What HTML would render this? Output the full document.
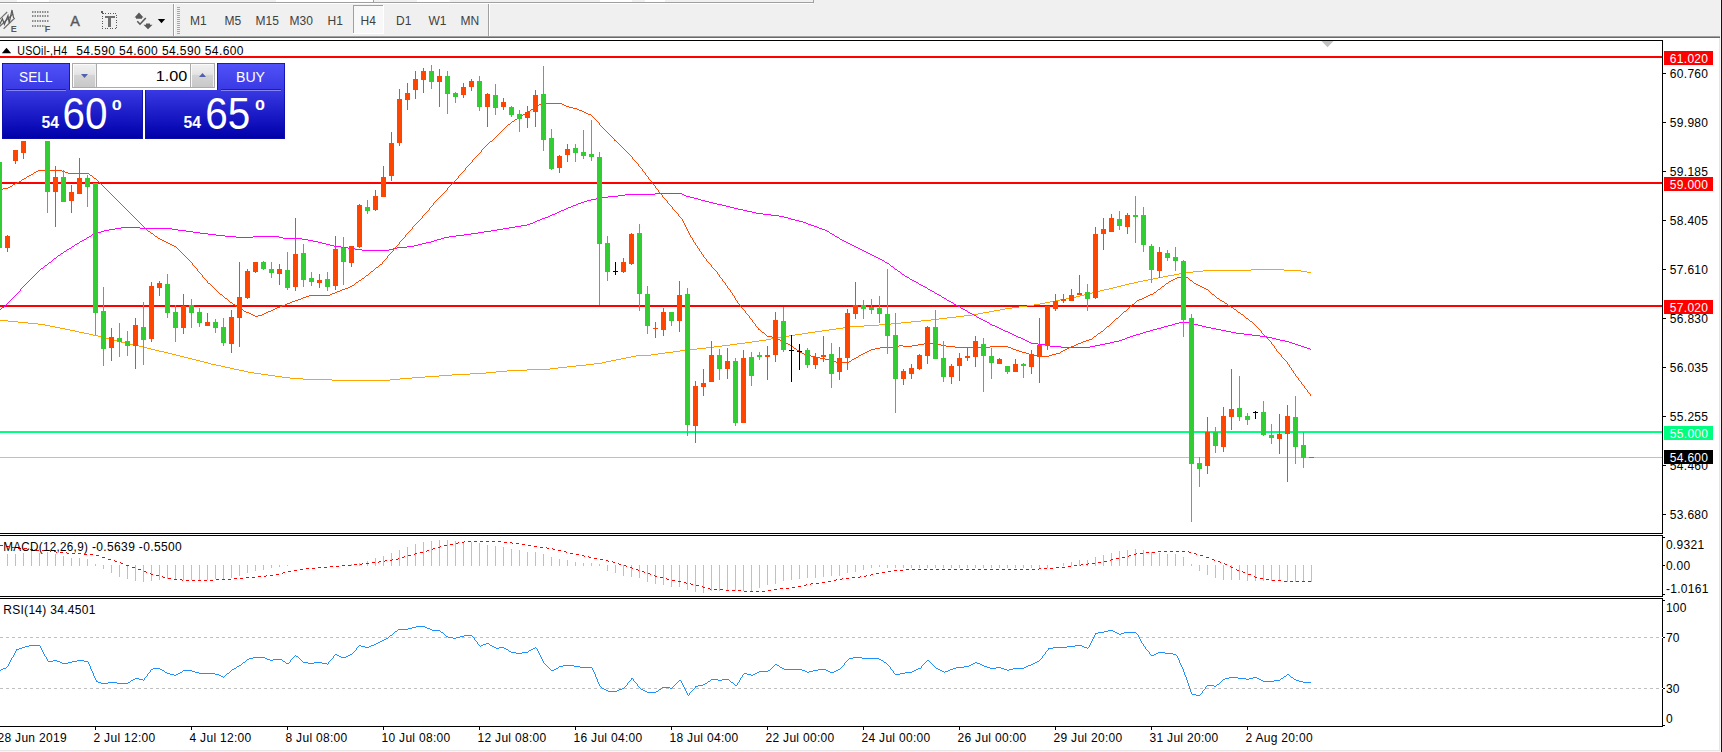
<!DOCTYPE html><html><head><meta charset="utf-8"><title>chart</title><style>
html,body{margin:0;padding:0;background:#fff;}body{width:1722px;height:752px;overflow:hidden;position:relative;font-family:"Liberation Sans",sans-serif;}
svg{position:absolute;left:0;top:0;}text{font-family:"Liberation Sans",sans-serif;}
.t{font-size:12px;fill:#000;}
</style></head><body>
<svg width="1722" height="752" viewBox="0 0 1722 752">
<rect x="0" y="0" width="1722" height="752" fill="#ffffff"/>
<g shape-rendering="crispEdges">
<rect x="0" y="0" width="1722" height="38" fill="#f0f0f0"/>
<rect x="17" y="0" width="32" height="2" fill="#ffffff"/>
<rect x="276" y="0" width="97" height="2" fill="#ffffff"/>
<rect x="417" y="0" width="33" height="2" fill="#ffffff"/>
<rect x="600" y="0" width="32" height="2" fill="#ffffff"/>
<rect x="645" y="0" width="20" height="2" fill="#ffffff"/>
<rect x="373" y="0" width="1" height="2" fill="#a0a0a0"/>
<rect x="0" y="2" width="814" height="1" fill="#a0a0a0"/>
<rect x="813" y="0" width="1" height="3" fill="#a0a0a0"/>
<rect x="0" y="3" width="813" height="1" fill="#ffffff"/>
<rect x="0" y="36" width="1722" height="1" fill="#a0a0a0"/>
<rect x="0" y="37" width="1722" height="1" fill="#696969"/>
<rect x="0" y="38" width="1722" height="2" fill="#ffffff"/>
<rect x="0" y="750" width="1720" height="1" fill="#e6e6e6"/>
<rect x="0" y="751" width="1720" height="1" fill="#f6f6f6"/>
<rect x="1719" y="38" width="1" height="713" fill="#e6e6e6"/>
<rect x="1720" y="0" width="1" height="752" fill="#f6f6f6"/>
<rect x="1721" y="0" width="1" height="752" fill="#10141c"/>
<rect x="0" y="40" width="1663" height="1" fill="#000"/>
<rect x="1662" y="40" width="1" height="687" fill="#000"/>
<rect x="0" y="533" width="1663" height="1" fill="#000"/>
<rect x="0" y="535" width="1663" height="1" fill="#000"/>
<rect x="0" y="596" width="1663" height="1" fill="#000"/>
<rect x="0" y="598" width="1663" height="1" fill="#000"/>
<rect x="0" y="726" width="1663" height="1" fill="#000"/>
<rect x="1662" y="534" width="1" height="1" fill="#fff"/>
<rect x="1662" y="597" width="1" height="1" fill="#fff"/>
<rect x="0" y="56" width="1662" height="2" fill="#ff0000"/>
<rect x="0" y="182" width="1662" height="2" fill="#ff0000"/>
<rect x="0" y="305" width="1662" height="2" fill="#ff0000"/>
<rect x="0" y="431" width="1662" height="2" fill="#00ff7f"/>
<rect x="0" y="457" width="1662" height="1" fill="#c0c0c0"/>
<line x1="0" y1="637.5" x2="1662" y2="637.5" stroke="#c0c0c0" stroke-width="1" stroke-dasharray="3,3"/>
<line x1="0" y1="688.5" x2="1662" y2="688.5" stroke="#c0c0c0" stroke-width="1" stroke-dasharray="3,3"/>
<rect x="1662" y="637" width="1" height="1" fill="#fff"/><rect x="1662" y="688" width="1" height="1" fill="#fff"/>
<rect x="7" y="554" width="1" height="12" fill="#c0c0c0"/>
<rect x="15" y="554" width="1" height="12" fill="#c0c0c0"/>
<rect x="23" y="553" width="1" height="13" fill="#c0c0c0"/>
<rect x="31" y="551" width="1" height="15" fill="#c0c0c0"/>
<rect x="39" y="553" width="1" height="13" fill="#c0c0c0"/>
<rect x="47" y="552" width="1" height="14" fill="#c0c0c0"/>
<rect x="55" y="554" width="1" height="12" fill="#c0c0c0"/>
<rect x="63" y="556" width="1" height="10" fill="#c0c0c0"/>
<rect x="71" y="558" width="1" height="8" fill="#c0c0c0"/>
<rect x="79" y="558" width="1" height="8" fill="#c0c0c0"/>
<rect x="87" y="559" width="1" height="7" fill="#c0c0c0"/>
<rect x="95" y="564" width="1" height="2" fill="#c0c0c0"/>
<rect x="103" y="565" width="1" height="4" fill="#c0c0c0"/>
<rect x="111" y="565" width="1" height="8" fill="#c0c0c0"/>
<rect x="119" y="565" width="1" height="12" fill="#c0c0c0"/>
<rect x="127" y="565" width="1" height="14" fill="#c0c0c0"/>
<rect x="135" y="565" width="1" height="16" fill="#c0c0c0"/>
<rect x="143" y="565" width="1" height="17" fill="#c0c0c0"/>
<rect x="151" y="565" width="1" height="16" fill="#c0c0c0"/>
<rect x="159" y="565" width="1" height="15" fill="#c0c0c0"/>
<rect x="167" y="565" width="1" height="14" fill="#c0c0c0"/>
<rect x="175" y="565" width="1" height="14" fill="#c0c0c0"/>
<rect x="183" y="565" width="1" height="15" fill="#c0c0c0"/>
<rect x="191" y="565" width="1" height="15" fill="#c0c0c0"/>
<rect x="199" y="565" width="1" height="15" fill="#c0c0c0"/>
<rect x="207" y="565" width="1" height="15" fill="#c0c0c0"/>
<rect x="215" y="565" width="1" height="14" fill="#c0c0c0"/>
<rect x="223" y="565" width="1" height="14" fill="#c0c0c0"/>
<rect x="231" y="565" width="1" height="13" fill="#c0c0c0"/>
<rect x="239" y="565" width="1" height="11" fill="#c0c0c0"/>
<rect x="247" y="565" width="1" height="8" fill="#c0c0c0"/>
<rect x="255" y="565" width="1" height="6" fill="#c0c0c0"/>
<rect x="263" y="565" width="1" height="5" fill="#c0c0c0"/>
<rect x="271" y="565" width="1" height="3" fill="#c0c0c0"/>
<rect x="279" y="565" width="1" height="2" fill="#c0c0c0"/>
<rect x="287" y="565" width="1" height="1" fill="#c0c0c0"/>
<rect x="351" y="564" width="1" height="2" fill="#c0c0c0"/>
<rect x="359" y="563" width="1" height="3" fill="#c0c0c0"/>
<rect x="367" y="561" width="1" height="5" fill="#c0c0c0"/>
<rect x="375" y="558" width="1" height="8" fill="#c0c0c0"/>
<rect x="383" y="556" width="1" height="10" fill="#c0c0c0"/>
<rect x="391" y="553" width="1" height="13" fill="#c0c0c0"/>
<rect x="399" y="550" width="1" height="16" fill="#c0c0c0"/>
<rect x="407" y="547" width="1" height="19" fill="#c0c0c0"/>
<rect x="415" y="544" width="1" height="22" fill="#c0c0c0"/>
<rect x="423" y="542" width="1" height="24" fill="#c0c0c0"/>
<rect x="431" y="541" width="1" height="25" fill="#c0c0c0"/>
<rect x="439" y="540" width="1" height="26" fill="#c0c0c0"/>
<rect x="447" y="540" width="1" height="26" fill="#c0c0c0"/>
<rect x="455" y="541" width="1" height="25" fill="#c0c0c0"/>
<rect x="463" y="542" width="1" height="24" fill="#c0c0c0"/>
<rect x="471" y="542" width="1" height="24" fill="#c0c0c0"/>
<rect x="479" y="543" width="1" height="23" fill="#c0c0c0"/>
<rect x="487" y="545" width="1" height="21" fill="#c0c0c0"/>
<rect x="495" y="546" width="1" height="20" fill="#c0c0c0"/>
<rect x="503" y="547" width="1" height="19" fill="#c0c0c0"/>
<rect x="511" y="549" width="1" height="17" fill="#c0c0c0"/>
<rect x="519" y="550" width="1" height="16" fill="#c0c0c0"/>
<rect x="527" y="552" width="1" height="14" fill="#c0c0c0"/>
<rect x="535" y="552" width="1" height="14" fill="#c0c0c0"/>
<rect x="543" y="554" width="1" height="12" fill="#c0c0c0"/>
<rect x="551" y="557" width="1" height="9" fill="#c0c0c0"/>
<rect x="559" y="559" width="1" height="7" fill="#c0c0c0"/>
<rect x="567" y="560" width="1" height="6" fill="#c0c0c0"/>
<rect x="575" y="562" width="1" height="4" fill="#c0c0c0"/>
<rect x="583" y="563" width="1" height="3" fill="#c0c0c0"/>
<rect x="591" y="563" width="1" height="3" fill="#c0c0c0"/>
<rect x="599" y="564" width="1" height="2" fill="#c0c0c0"/>
<rect x="607" y="565" width="1" height="6" fill="#c0c0c0"/>
<rect x="615" y="565" width="1" height="8" fill="#c0c0c0"/>
<rect x="623" y="565" width="1" height="11" fill="#c0c0c0"/>
<rect x="631" y="565" width="1" height="12" fill="#c0c0c0"/>
<rect x="639" y="565" width="1" height="13" fill="#c0c0c0"/>
<rect x="647" y="565" width="1" height="17" fill="#c0c0c0"/>
<rect x="655" y="565" width="1" height="19" fill="#c0c0c0"/>
<rect x="663" y="565" width="1" height="20" fill="#c0c0c0"/>
<rect x="671" y="565" width="1" height="22" fill="#c0c0c0"/>
<rect x="679" y="565" width="1" height="22" fill="#c0c0c0"/>
<rect x="687" y="565" width="1" height="25" fill="#c0c0c0"/>
<rect x="695" y="565" width="1" height="27" fill="#c0c0c0"/>
<rect x="703" y="565" width="1" height="28" fill="#c0c0c0"/>
<rect x="711" y="565" width="1" height="26" fill="#c0c0c0"/>
<rect x="719" y="565" width="1" height="26" fill="#c0c0c0"/>
<rect x="727" y="565" width="1" height="26" fill="#c0c0c0"/>
<rect x="735" y="565" width="1" height="26" fill="#c0c0c0"/>
<rect x="743" y="565" width="1" height="26" fill="#c0c0c0"/>
<rect x="751" y="565" width="1" height="26" fill="#c0c0c0"/>
<rect x="759" y="565" width="1" height="23" fill="#c0c0c0"/>
<rect x="767" y="565" width="1" height="20" fill="#c0c0c0"/>
<rect x="775" y="565" width="1" height="19" fill="#c0c0c0"/>
<rect x="783" y="565" width="1" height="16" fill="#c0c0c0"/>
<rect x="791" y="565" width="1" height="15" fill="#c0c0c0"/>
<rect x="799" y="565" width="1" height="14" fill="#c0c0c0"/>
<rect x="807" y="565" width="1" height="13" fill="#c0c0c0"/>
<rect x="815" y="565" width="1" height="13" fill="#c0c0c0"/>
<rect x="823" y="565" width="1" height="12" fill="#c0c0c0"/>
<rect x="831" y="565" width="1" height="11" fill="#c0c0c0"/>
<rect x="839" y="565" width="1" height="11" fill="#c0c0c0"/>
<rect x="847" y="565" width="1" height="8" fill="#c0c0c0"/>
<rect x="855" y="565" width="1" height="7" fill="#c0c0c0"/>
<rect x="863" y="565" width="1" height="5" fill="#c0c0c0"/>
<rect x="871" y="565" width="1" height="3" fill="#c0c0c0"/>
<rect x="879" y="565" width="1" height="2" fill="#c0c0c0"/>
<rect x="1063" y="563" width="1" height="3" fill="#c0c0c0"/>
<rect x="1071" y="562" width="1" height="4" fill="#c0c0c0"/>
<rect x="1079" y="560" width="1" height="6" fill="#c0c0c0"/>
<rect x="1087" y="560" width="1" height="6" fill="#c0c0c0"/>
<rect x="1095" y="557" width="1" height="9" fill="#c0c0c0"/>
<rect x="1103" y="555" width="1" height="11" fill="#c0c0c0"/>
<rect x="1111" y="553" width="1" height="13" fill="#c0c0c0"/>
<rect x="1119" y="551" width="1" height="15" fill="#c0c0c0"/>
<rect x="1127" y="550" width="1" height="16" fill="#c0c0c0"/>
<rect x="1135" y="549" width="1" height="17" fill="#c0c0c0"/>
<rect x="1143" y="550" width="1" height="16" fill="#c0c0c0"/>
<rect x="1151" y="552" width="1" height="14" fill="#c0c0c0"/>
<rect x="1159" y="553" width="1" height="13" fill="#c0c0c0"/>
<rect x="1167" y="554" width="1" height="12" fill="#c0c0c0"/>
<rect x="1175" y="554" width="1" height="12" fill="#c0c0c0"/>
<rect x="1183" y="557" width="1" height="9" fill="#c0c0c0"/>
<rect x="1191" y="564" width="1" height="2" fill="#c0c0c0"/>
<rect x="1199" y="565" width="1" height="6" fill="#c0c0c0"/>
<rect x="1207" y="565" width="1" height="10" fill="#c0c0c0"/>
<rect x="1215" y="565" width="1" height="13" fill="#c0c0c0"/>
<rect x="1223" y="565" width="1" height="15" fill="#c0c0c0"/>
<rect x="1231" y="565" width="1" height="15" fill="#c0c0c0"/>
<rect x="1239" y="565" width="1" height="15" fill="#c0c0c0"/>
<rect x="1247" y="565" width="1" height="16" fill="#c0c0c0"/>
<rect x="1255" y="565" width="1" height="16" fill="#c0c0c0"/>
<rect x="1263" y="565" width="1" height="16" fill="#c0c0c0"/>
<rect x="1271" y="565" width="1" height="16" fill="#c0c0c0"/>
<rect x="1279" y="565" width="1" height="16" fill="#c0c0c0"/>
<rect x="1287" y="565" width="1" height="17" fill="#c0c0c0"/>
<rect x="1295" y="565" width="1" height="17" fill="#c0c0c0"/>
<rect x="1303" y="565" width="1" height="17" fill="#c0c0c0"/>
<rect x="1311" y="565" width="1" height="17" fill="#c0c0c0"/>
<rect x="887" y="565" width="1" height="3" fill="#c0c0c0"/>
<rect x="895" y="565" width="1" height="3" fill="#c0c0c0"/>
<rect x="903" y="565" width="1" height="3" fill="#c0c0c0"/>
<rect x="911" y="565" width="1" height="3" fill="#c0c0c0"/>
<rect x="919" y="565" width="1" height="3" fill="#c0c0c0"/>
<rect x="927" y="565" width="1" height="3" fill="#c0c0c0"/>
<rect x="935" y="565" width="1" height="3" fill="#c0c0c0"/>
<rect x="943" y="565" width="1" height="3" fill="#c0c0c0"/>
<rect x="951" y="565" width="1" height="3" fill="#c0c0c0"/>
<rect x="959" y="565" width="1" height="3" fill="#c0c0c0"/>
<rect x="967" y="565" width="1" height="3" fill="#c0c0c0"/>
<rect x="975" y="565" width="1" height="3" fill="#c0c0c0"/>
<rect x="983" y="565" width="1" height="3" fill="#c0c0c0"/>
<rect x="991" y="565" width="1" height="3" fill="#c0c0c0"/>
<rect x="999" y="565" width="1" height="3" fill="#c0c0c0"/>
<rect x="1007" y="565" width="1" height="3" fill="#c0c0c0"/>
<rect x="1015" y="565" width="1" height="3" fill="#c0c0c0"/>
<rect x="1023" y="565" width="1" height="3" fill="#c0c0c0"/>
<rect x="1031" y="565" width="1" height="3" fill="#c0c0c0"/>
<rect x="1039" y="565" width="1" height="3" fill="#c0c0c0"/>
<rect x="1047" y="565" width="1" height="3" fill="#c0c0c0"/>
</g>
<g shape-rendering="crispEdges">
<g fill="#ffa500" shape-rendering="crispEdges"><rect x="0" y="320" width="8" height="1"/><rect x="8" y="321" width="10" height="1"/><rect x="18" y="322" width="10" height="1"/><rect x="28" y="323" width="10" height="1"/><rect x="38" y="324" width="7" height="1"/><rect x="45" y="325" width="5" height="1"/><rect x="50" y="326" width="5" height="1"/><rect x="55" y="327" width="5" height="1"/><rect x="60" y="328" width="5" height="1"/><rect x="65" y="329" width="5" height="1"/><rect x="70" y="330" width="5" height="1"/><rect x="75" y="331" width="4" height="1"/><rect x="79" y="332" width="5" height="1"/><rect x="84" y="333" width="5" height="1"/><rect x="89" y="334" width="4" height="1"/><rect x="93" y="335" width="5" height="1"/><rect x="98" y="336" width="4" height="1"/><rect x="102" y="337" width="4" height="1"/><rect x="106" y="338" width="4" height="1"/><rect x="110" y="339" width="4" height="1"/><rect x="114" y="340" width="3" height="1"/><rect x="117" y="341" width="4" height="1"/><rect x="121" y="342" width="5" height="1"/><rect x="126" y="343" width="4" height="1"/><rect x="130" y="344" width="5" height="1"/><rect x="135" y="345" width="4" height="1"/><rect x="139" y="346" width="4" height="1"/><rect x="143" y="347" width="4" height="1"/><rect x="147" y="348" width="4" height="1"/><rect x="151" y="349" width="4" height="1"/><rect x="155" y="350" width="4" height="1"/><rect x="159" y="351" width="5" height="1"/><rect x="164" y="352" width="4" height="1"/><rect x="168" y="353" width="4" height="1"/><rect x="172" y="354" width="4" height="1"/><rect x="176" y="355" width="4" height="1"/><rect x="180" y="356" width="4" height="1"/><rect x="184" y="357" width="4" height="1"/><rect x="188" y="358" width="4" height="1"/><rect x="192" y="359" width="4" height="1"/><rect x="196" y="360" width="4" height="1"/><rect x="200" y="361" width="4" height="1"/><rect x="204" y="362" width="4" height="1"/><rect x="208" y="363" width="3" height="1"/><rect x="211" y="364" width="5" height="1"/><rect x="216" y="365" width="5" height="1"/><rect x="221" y="366" width="4" height="1"/><rect x="225" y="367" width="5" height="1"/><rect x="230" y="368" width="4" height="1"/><rect x="234" y="369" width="5" height="1"/><rect x="239" y="370" width="5" height="1"/><rect x="244" y="371" width="4" height="1"/><rect x="248" y="372" width="6" height="1"/><rect x="254" y="373" width="7" height="1"/><rect x="261" y="374" width="7" height="1"/><rect x="268" y="375" width="7" height="1"/><rect x="275" y="376" width="7" height="1"/><rect x="282" y="377" width="8" height="1"/><rect x="290" y="378" width="13" height="1"/><rect x="303" y="379" width="29" height="1"/><rect x="332" y="380" width="58" height="1"/><rect x="390" y="379" width="10" height="1"/><rect x="400" y="378" width="12" height="1"/><rect x="412" y="377" width="13" height="1"/><rect x="425" y="376" width="14" height="1"/><rect x="439" y="375" width="13" height="1"/><rect x="452" y="374" width="18" height="1"/><rect x="470" y="373" width="16" height="1"/><rect x="486" y="372" width="10" height="1"/><rect x="496" y="371" width="11" height="1"/><rect x="507" y="370" width="20" height="1"/><rect x="527" y="369" width="23" height="1"/><rect x="550" y="368" width="8" height="1"/><rect x="558" y="367" width="9" height="1"/><rect x="567" y="366" width="9" height="1"/><rect x="576" y="365" width="10" height="1"/><rect x="586" y="364" width="8" height="1"/><rect x="594" y="363" width="8" height="1"/><rect x="602" y="362" width="4" height="1"/><rect x="606" y="361" width="5" height="1"/><rect x="611" y="360" width="5" height="1"/><rect x="616" y="359" width="5" height="1"/><rect x="621" y="358" width="5" height="1"/><rect x="626" y="357" width="5" height="1"/><rect x="631" y="356" width="5" height="1"/><rect x="636" y="355" width="15" height="1"/><rect x="651" y="354" width="7" height="1"/><rect x="658" y="353" width="7" height="1"/><rect x="665" y="352" width="8" height="1"/><rect x="673" y="351" width="7" height="1"/><rect x="680" y="350" width="7" height="1"/><rect x="687" y="349" width="10" height="1"/><rect x="697" y="348" width="9" height="1"/><rect x="706" y="347" width="8" height="1"/><rect x="714" y="346" width="8" height="1"/><rect x="722" y="345" width="8" height="1"/><rect x="730" y="344" width="7" height="1"/><rect x="737" y="343" width="8" height="1"/><rect x="745" y="342" width="7" height="1"/><rect x="752" y="341" width="7" height="1"/><rect x="759" y="340" width="7" height="1"/><rect x="766" y="339" width="5" height="1"/><rect x="771" y="338" width="5" height="1"/><rect x="776" y="337" width="6" height="1"/><rect x="782" y="336" width="7" height="1"/><rect x="789" y="335" width="6" height="1"/><rect x="795" y="334" width="7" height="1"/><rect x="802" y="333" width="6" height="1"/><rect x="808" y="332" width="7" height="1"/><rect x="815" y="331" width="7" height="1"/><rect x="822" y="330" width="7" height="1"/><rect x="829" y="329" width="7" height="1"/><rect x="836" y="328" width="7" height="1"/><rect x="843" y="327" width="7" height="1"/><rect x="850" y="326" width="14" height="1"/><rect x="864" y="325" width="15" height="1"/><rect x="879" y="324" width="12" height="1"/><rect x="891" y="323" width="10" height="1"/><rect x="901" y="322" width="10" height="1"/><rect x="911" y="321" width="10" height="1"/><rect x="921" y="320" width="10" height="1"/><rect x="931" y="319" width="8" height="1"/><rect x="939" y="318" width="8" height="1"/><rect x="947" y="317" width="9" height="1"/><rect x="956" y="316" width="8" height="1"/><rect x="964" y="315" width="8" height="1"/><rect x="972" y="314" width="6" height="1"/><rect x="978" y="313" width="5" height="1"/><rect x="983" y="312" width="6" height="1"/><rect x="989" y="311" width="5" height="1"/><rect x="994" y="310" width="6" height="1"/><rect x="1000" y="309" width="5" height="1"/><rect x="1005" y="308" width="7" height="1"/><rect x="1012" y="307" width="7" height="1"/><rect x="1019" y="306" width="8" height="1"/><rect x="1027" y="305" width="7" height="1"/><rect x="1034" y="304" width="6" height="1"/><rect x="1040" y="303" width="5" height="1"/><rect x="1045" y="302" width="5" height="1"/><rect x="1050" y="301" width="5" height="1"/><rect x="1055" y="300" width="5" height="1"/><rect x="1060" y="299" width="6" height="1"/><rect x="1066" y="298" width="6" height="1"/><rect x="1072" y="297" width="4" height="1"/><rect x="1076" y="296" width="4" height="1"/><rect x="1080" y="295" width="4" height="1"/><rect x="1084" y="294" width="4" height="1"/><rect x="1088" y="293" width="4" height="1"/><rect x="1092" y="292" width="4" height="1"/><rect x="1096" y="291" width="4" height="1"/><rect x="1100" y="290" width="4" height="1"/><rect x="1104" y="289" width="5" height="1"/><rect x="1109" y="288" width="4" height="1"/><rect x="1113" y="287" width="4" height="1"/><rect x="1117" y="286" width="4" height="1"/><rect x="1121" y="285" width="4" height="1"/><rect x="1125" y="284" width="4" height="1"/><rect x="1129" y="283" width="5" height="1"/><rect x="1134" y="282" width="4" height="1"/><rect x="1138" y="281" width="5" height="1"/><rect x="1143" y="280" width="5" height="1"/><rect x="1148" y="279" width="5" height="1"/><rect x="1153" y="278" width="5" height="1"/><rect x="1158" y="277" width="5" height="1"/><rect x="1163" y="276" width="5" height="1"/><rect x="1168" y="275" width="6" height="1"/><rect x="1174" y="274" width="5" height="1"/><rect x="1179" y="273" width="6" height="1"/><rect x="1185" y="272" width="8" height="1"/><rect x="1193" y="271" width="10" height="1"/><rect x="1203" y="270" width="48" height="1"/><rect x="1251" y="269" width="33" height="1"/><rect x="1284" y="270" width="17" height="1"/><rect x="1301" y="271" width="6" height="1"/><rect x="1307" y="272" width="4" height="1"/></g>
<g fill="#ff00ff" shape-rendering="crispEdges"><rect x="0" y="309" width="1" height="1"/><rect x="1" y="308" width="1" height="1"/><rect x="2" y="307" width="2" height="1"/><rect x="4" y="306" width="1" height="1"/><rect x="5" y="305" width="1" height="1"/><rect x="6" y="304" width="1" height="1"/><rect x="7" y="303" width="1" height="1"/><rect x="8" y="302" width="1" height="1"/><rect x="9" y="301" width="1" height="1"/><rect x="10" y="300" width="1" height="1"/><rect x="11" y="299" width="1" height="1"/><rect x="12" y="298" width="1" height="1"/><rect x="13" y="297" width="1" height="1"/><rect x="14" y="296" width="1" height="1"/><rect x="15" y="295" width="1" height="1"/><rect x="16" y="294" width="1" height="1"/><rect x="17" y="293" width="1" height="1"/><rect x="18" y="292" width="1" height="1"/><rect x="19" y="291" width="1" height="1"/><rect x="20" y="289" width="1" height="2"/><rect x="21" y="288" width="1" height="1"/><rect x="22" y="287" width="1" height="1"/><rect x="23" y="286" width="1" height="1"/><rect x="24" y="285" width="1" height="1"/><rect x="25" y="284" width="1" height="1"/><rect x="26" y="283" width="1" height="1"/><rect x="27" y="282" width="1" height="1"/><rect x="28" y="281" width="1" height="1"/><rect x="29" y="280" width="1" height="1"/><rect x="30" y="279" width="1" height="1"/><rect x="31" y="278" width="1" height="1"/><rect x="32" y="277" width="1" height="1"/><rect x="33" y="276" width="1" height="1"/><rect x="34" y="275" width="1" height="1"/><rect x="35" y="274" width="1" height="1"/><rect x="36" y="273" width="1" height="1"/><rect x="37" y="272" width="1" height="1"/><rect x="38" y="271" width="1" height="1"/><rect x="39" y="270" width="1" height="1"/><rect x="40" y="269" width="1" height="1"/><rect x="41" y="268" width="2" height="1"/><rect x="43" y="267" width="1" height="1"/><rect x="44" y="266" width="1" height="1"/><rect x="45" y="265" width="2" height="1"/><rect x="47" y="264" width="1" height="1"/><rect x="48" y="263" width="1" height="1"/><rect x="49" y="262" width="2" height="1"/><rect x="51" y="261" width="1" height="1"/><rect x="52" y="260" width="1" height="1"/><rect x="53" y="259" width="1" height="1"/><rect x="54" y="258" width="2" height="1"/><rect x="56" y="257" width="1" height="1"/><rect x="57" y="256" width="1" height="1"/><rect x="58" y="255" width="2" height="1"/><rect x="60" y="254" width="1" height="1"/><rect x="61" y="253" width="2" height="1"/><rect x="63" y="252" width="1" height="1"/><rect x="64" y="251" width="2" height="1"/><rect x="66" y="250" width="1" height="1"/><rect x="67" y="249" width="2" height="1"/><rect x="69" y="248" width="2" height="1"/><rect x="71" y="247" width="1" height="1"/><rect x="72" y="246" width="2" height="1"/><rect x="74" y="245" width="1" height="1"/><rect x="75" y="244" width="2" height="1"/><rect x="77" y="243" width="2" height="1"/><rect x="79" y="242" width="1" height="1"/><rect x="80" y="241" width="2" height="1"/><rect x="82" y="240" width="2" height="1"/><rect x="84" y="239" width="2" height="1"/><rect x="86" y="238" width="1" height="1"/><rect x="87" y="237" width="2" height="1"/><rect x="89" y="236" width="2" height="1"/><rect x="91" y="235" width="1" height="1"/><rect x="92" y="234" width="2" height="1"/><rect x="94" y="233" width="3" height="1"/><rect x="97" y="232" width="4" height="1"/><rect x="101" y="231" width="3" height="1"/><rect x="104" y="230" width="5" height="1"/><rect x="109" y="229" width="6" height="1"/><rect x="115" y="228" width="6" height="1"/><rect x="121" y="227" width="19" height="1"/><rect x="140" y="228" width="32" height="1"/><rect x="172" y="229" width="6" height="1"/><rect x="178" y="230" width="8" height="1"/><rect x="186" y="231" width="7" height="1"/><rect x="193" y="232" width="7" height="1"/><rect x="200" y="233" width="8" height="1"/><rect x="208" y="234" width="8" height="1"/><rect x="216" y="235" width="9" height="1"/><rect x="225" y="236" width="11" height="1"/><rect x="236" y="237" width="17" height="1"/><rect x="253" y="236" width="26" height="1"/><rect x="279" y="237" width="4" height="1"/><rect x="283" y="238" width="19" height="1"/><rect x="302" y="239" width="6" height="1"/><rect x="308" y="240" width="5" height="1"/><rect x="313" y="241" width="5" height="1"/><rect x="318" y="242" width="4" height="1"/><rect x="322" y="243" width="4" height="1"/><rect x="326" y="244" width="4" height="1"/><rect x="330" y="245" width="4" height="1"/><rect x="334" y="246" width="7" height="1"/><rect x="341" y="247" width="7" height="1"/><rect x="348" y="248" width="7" height="1"/><rect x="355" y="249" width="7" height="1"/><rect x="362" y="250" width="27" height="1"/><rect x="389" y="249" width="4" height="1"/><rect x="393" y="248" width="4" height="1"/><rect x="397" y="247" width="10" height="1"/><rect x="407" y="246" width="7" height="1"/><rect x="414" y="245" width="4" height="1"/><rect x="418" y="244" width="4" height="1"/><rect x="422" y="243" width="4" height="1"/><rect x="426" y="242" width="5" height="1"/><rect x="431" y="241" width="3" height="1"/><rect x="434" y="240" width="3" height="1"/><rect x="437" y="239" width="4" height="1"/><rect x="441" y="238" width="3" height="1"/><rect x="444" y="237" width="5" height="1"/><rect x="449" y="236" width="7" height="1"/><rect x="456" y="235" width="8" height="1"/><rect x="464" y="234" width="7" height="1"/><rect x="471" y="233" width="7" height="1"/><rect x="478" y="232" width="6" height="1"/><rect x="484" y="231" width="7" height="1"/><rect x="491" y="230" width="6" height="1"/><rect x="497" y="229" width="6" height="1"/><rect x="503" y="228" width="6" height="1"/><rect x="509" y="227" width="6" height="1"/><rect x="515" y="226" width="6" height="1"/><rect x="521" y="225" width="6" height="1"/><rect x="527" y="224" width="3" height="1"/><rect x="530" y="223" width="3" height="1"/><rect x="533" y="222" width="2" height="1"/><rect x="535" y="221" width="2" height="1"/><rect x="537" y="220" width="3" height="1"/><rect x="540" y="219" width="2" height="1"/><rect x="542" y="218" width="3" height="1"/><rect x="545" y="217" width="3" height="1"/><rect x="548" y="216" width="2" height="1"/><rect x="550" y="215" width="2" height="1"/><rect x="552" y="214" width="3" height="1"/><rect x="555" y="213" width="2" height="1"/><rect x="557" y="212" width="2" height="1"/><rect x="559" y="211" width="2" height="1"/><rect x="561" y="210" width="3" height="1"/><rect x="564" y="209" width="2" height="1"/><rect x="566" y="208" width="2" height="1"/><rect x="568" y="207" width="3" height="1"/><rect x="571" y="206" width="2" height="1"/><rect x="573" y="205" width="3" height="1"/><rect x="576" y="204" width="2" height="1"/><rect x="578" y="203" width="3" height="1"/><rect x="581" y="202" width="3" height="1"/><rect x="584" y="201" width="3" height="1"/><rect x="587" y="200" width="4" height="1"/><rect x="591" y="199" width="5" height="1"/><rect x="596" y="198" width="5" height="1"/><rect x="601" y="197" width="7" height="1"/><rect x="608" y="196" width="10" height="1"/><rect x="618" y="195" width="7" height="1"/><rect x="625" y="194" width="30" height="1"/><rect x="655" y="193" width="27" height="1"/><rect x="682" y="194" width="2" height="1"/><rect x="684" y="195" width="2" height="1"/><rect x="686" y="196" width="4" height="1"/><rect x="690" y="197" width="4" height="1"/><rect x="694" y="198" width="4" height="1"/><rect x="698" y="199" width="3" height="1"/><rect x="701" y="200" width="4" height="1"/><rect x="705" y="201" width="4" height="1"/><rect x="709" y="202" width="4" height="1"/><rect x="713" y="203" width="4" height="1"/><rect x="717" y="204" width="5" height="1"/><rect x="722" y="205" width="4" height="1"/><rect x="726" y="206" width="4" height="1"/><rect x="730" y="207" width="4" height="1"/><rect x="734" y="208" width="4" height="1"/><rect x="738" y="209" width="5" height="1"/><rect x="743" y="210" width="4" height="1"/><rect x="747" y="211" width="5" height="1"/><rect x="752" y="212" width="4" height="1"/><rect x="756" y="213" width="7" height="1"/><rect x="763" y="214" width="8" height="1"/><rect x="771" y="215" width="8" height="1"/><rect x="779" y="216" width="5" height="1"/><rect x="784" y="217" width="4" height="1"/><rect x="788" y="218" width="3" height="1"/><rect x="791" y="219" width="4" height="1"/><rect x="795" y="220" width="4" height="1"/><rect x="799" y="221" width="4" height="1"/><rect x="803" y="222" width="3" height="1"/><rect x="806" y="223" width="2" height="1"/><rect x="808" y="224" width="3" height="1"/><rect x="811" y="225" width="3" height="1"/><rect x="814" y="226" width="3" height="1"/><rect x="817" y="227" width="2" height="1"/><rect x="819" y="228" width="3" height="1"/><rect x="822" y="229" width="3" height="1"/><rect x="825" y="230" width="2" height="1"/><rect x="827" y="231" width="2" height="1"/><rect x="829" y="232" width="1" height="1"/><rect x="830" y="233" width="2" height="1"/><rect x="832" y="234" width="2" height="1"/><rect x="834" y="235" width="1" height="1"/><rect x="835" y="236" width="2" height="1"/><rect x="837" y="237" width="2" height="1"/><rect x="839" y="238" width="1" height="1"/><rect x="840" y="239" width="2" height="1"/><rect x="842" y="240" width="2" height="1"/><rect x="844" y="241" width="2" height="1"/><rect x="846" y="242" width="2" height="1"/><rect x="848" y="243" width="2" height="1"/><rect x="850" y="244" width="2" height="1"/><rect x="852" y="245" width="2" height="1"/><rect x="854" y="246" width="2" height="1"/><rect x="856" y="247" width="2" height="1"/><rect x="858" y="248" width="2" height="1"/><rect x="860" y="249" width="2" height="1"/><rect x="862" y="250" width="2" height="1"/><rect x="864" y="251" width="2" height="1"/><rect x="866" y="252" width="2" height="1"/><rect x="868" y="253" width="2" height="1"/><rect x="870" y="254" width="2" height="1"/><rect x="872" y="255" width="2" height="1"/><rect x="874" y="256" width="2" height="1"/><rect x="876" y="257" width="2" height="1"/><rect x="878" y="258" width="2" height="1"/><rect x="880" y="259" width="2" height="1"/><rect x="882" y="260" width="2" height="1"/><rect x="884" y="261" width="1" height="1"/><rect x="885" y="262" width="2" height="1"/><rect x="887" y="263" width="2" height="1"/><rect x="889" y="264" width="1" height="1"/><rect x="890" y="265" width="1" height="1"/><rect x="891" y="266" width="2" height="1"/><rect x="893" y="267" width="1" height="1"/><rect x="894" y="268" width="1" height="1"/><rect x="895" y="269" width="2" height="1"/><rect x="897" y="270" width="1" height="1"/><rect x="898" y="271" width="2" height="1"/><rect x="900" y="272" width="1" height="1"/><rect x="901" y="273" width="1" height="1"/><rect x="902" y="274" width="2" height="1"/><rect x="904" y="275" width="1" height="1"/><rect x="905" y="276" width="2" height="1"/><rect x="907" y="277" width="2" height="1"/><rect x="909" y="278" width="1" height="1"/><rect x="910" y="279" width="2" height="1"/><rect x="912" y="280" width="2" height="1"/><rect x="914" y="281" width="2" height="1"/><rect x="916" y="282" width="2" height="1"/><rect x="918" y="283" width="1" height="1"/><rect x="919" y="284" width="2" height="1"/><rect x="921" y="285" width="2" height="1"/><rect x="923" y="286" width="2" height="1"/><rect x="925" y="287" width="2" height="1"/><rect x="927" y="288" width="1" height="1"/><rect x="928" y="289" width="2" height="1"/><rect x="930" y="290" width="2" height="1"/><rect x="932" y="291" width="2" height="1"/><rect x="934" y="292" width="1" height="1"/><rect x="935" y="293" width="2" height="1"/><rect x="937" y="294" width="2" height="1"/><rect x="939" y="295" width="2" height="1"/><rect x="941" y="296" width="1" height="1"/><rect x="942" y="297" width="2" height="1"/><rect x="944" y="298" width="2" height="1"/><rect x="946" y="299" width="1" height="1"/><rect x="947" y="300" width="2" height="1"/><rect x="949" y="301" width="2" height="1"/><rect x="951" y="302" width="2" height="1"/><rect x="953" y="303" width="1" height="1"/><rect x="954" y="304" width="2" height="1"/><rect x="956" y="305" width="2" height="1"/><rect x="958" y="306" width="2" height="1"/><rect x="960" y="307" width="1" height="1"/><rect x="961" y="308" width="2" height="1"/><rect x="963" y="309" width="2" height="1"/><rect x="965" y="310" width="2" height="1"/><rect x="967" y="311" width="1" height="1"/><rect x="968" y="312" width="2" height="1"/><rect x="970" y="313" width="2" height="1"/><rect x="972" y="314" width="2" height="1"/><rect x="974" y="315" width="2" height="1"/><rect x="976" y="316" width="1" height="1"/><rect x="977" y="317" width="2" height="1"/><rect x="979" y="318" width="2" height="1"/><rect x="981" y="319" width="2" height="1"/><rect x="983" y="320" width="2" height="1"/><rect x="985" y="321" width="2" height="1"/><rect x="987" y="322" width="2" height="1"/><rect x="989" y="323" width="1" height="1"/><rect x="990" y="324" width="2" height="1"/><rect x="992" y="325" width="3" height="1"/><rect x="995" y="326" width="2" height="1"/><rect x="997" y="327" width="2" height="1"/><rect x="999" y="328" width="2" height="1"/><rect x="1001" y="329" width="2" height="1"/><rect x="1003" y="330" width="2" height="1"/><rect x="1005" y="331" width="3" height="1"/><rect x="1008" y="332" width="2" height="1"/><rect x="1010" y="333" width="2" height="1"/><rect x="1012" y="334" width="2" height="1"/><rect x="1014" y="335" width="2" height="1"/><rect x="1016" y="336" width="2" height="1"/><rect x="1018" y="337" width="3" height="1"/><rect x="1021" y="338" width="2" height="1"/><rect x="1023" y="339" width="2" height="1"/><rect x="1025" y="340" width="2" height="1"/><rect x="1027" y="341" width="2" height="1"/><rect x="1029" y="342" width="2" height="1"/><rect x="1031" y="343" width="7" height="1"/><rect x="1038" y="344" width="8" height="1"/><rect x="1046" y="345" width="4" height="1"/><rect x="1050" y="346" width="11" height="1"/><rect x="1061" y="347" width="29" height="1"/><rect x="1090" y="346" width="5" height="1"/><rect x="1095" y="345" width="5" height="1"/><rect x="1100" y="344" width="5" height="1"/><rect x="1105" y="343" width="5" height="1"/><rect x="1110" y="342" width="4" height="1"/><rect x="1114" y="341" width="5" height="1"/><rect x="1119" y="340" width="3" height="1"/><rect x="1122" y="339" width="3" height="1"/><rect x="1125" y="338" width="2" height="1"/><rect x="1127" y="337" width="3" height="1"/><rect x="1130" y="336" width="3" height="1"/><rect x="1133" y="335" width="3" height="1"/><rect x="1136" y="334" width="4" height="1"/><rect x="1140" y="333" width="3" height="1"/><rect x="1143" y="332" width="3" height="1"/><rect x="1146" y="331" width="4" height="1"/><rect x="1150" y="330" width="3" height="1"/><rect x="1153" y="329" width="4" height="1"/><rect x="1157" y="328" width="4" height="1"/><rect x="1161" y="327" width="3" height="1"/><rect x="1164" y="326" width="4" height="1"/><rect x="1168" y="325" width="4" height="1"/><rect x="1172" y="324" width="3" height="1"/><rect x="1175" y="323" width="4" height="1"/><rect x="1179" y="322" width="11" height="1"/><rect x="1190" y="323" width="4" height="1"/><rect x="1194" y="324" width="4" height="1"/><rect x="1198" y="325" width="4" height="1"/><rect x="1202" y="326" width="4" height="1"/><rect x="1206" y="327" width="5" height="1"/><rect x="1211" y="328" width="5" height="1"/><rect x="1216" y="329" width="5" height="1"/><rect x="1221" y="330" width="5" height="1"/><rect x="1226" y="331" width="5" height="1"/><rect x="1231" y="332" width="5" height="1"/><rect x="1236" y="333" width="8" height="1"/><rect x="1244" y="334" width="8" height="1"/><rect x="1252" y="335" width="8" height="1"/><rect x="1260" y="336" width="7" height="1"/><rect x="1267" y="337" width="5" height="1"/><rect x="1272" y="338" width="4" height="1"/><rect x="1276" y="339" width="4" height="1"/><rect x="1280" y="340" width="5" height="1"/><rect x="1285" y="341" width="4" height="1"/><rect x="1289" y="342" width="3" height="1"/><rect x="1292" y="343" width="3" height="1"/><rect x="1295" y="344" width="3" height="1"/><rect x="1298" y="345" width="3" height="1"/><rect x="1301" y="346" width="3" height="1"/><rect x="1304" y="347" width="3" height="1"/><rect x="1307" y="348" width="3" height="1"/><rect x="1310" y="349" width="1" height="1"/></g>
<g fill="#ff4500" shape-rendering="crispEdges"><rect x="0" y="189" width="3" height="1"/><rect x="3" y="188" width="5" height="1"/><rect x="8" y="187" width="2" height="1"/><rect x="10" y="186" width="2" height="1"/><rect x="12" y="185" width="1" height="1"/><rect x="13" y="184" width="2" height="1"/><rect x="15" y="183" width="2" height="1"/><rect x="17" y="182" width="2" height="1"/><rect x="19" y="181" width="2" height="1"/><rect x="21" y="180" width="1" height="1"/><rect x="22" y="179" width="2" height="1"/><rect x="24" y="178" width="2" height="1"/><rect x="26" y="177" width="1" height="1"/><rect x="27" y="176" width="2" height="1"/><rect x="29" y="175" width="2" height="1"/><rect x="31" y="174" width="2" height="1"/><rect x="33" y="173" width="1" height="1"/><rect x="34" y="172" width="2" height="1"/><rect x="36" y="171" width="2" height="1"/><rect x="38" y="170" width="24" height="1"/><rect x="62" y="171" width="3" height="1"/><rect x="65" y="172" width="3" height="1"/><rect x="68" y="173" width="21" height="1"/><rect x="89" y="174" width="1" height="1"/><rect x="90" y="175" width="2" height="1"/><rect x="92" y="176" width="1" height="1"/><rect x="93" y="177" width="1" height="1"/><rect x="94" y="178" width="2" height="1"/><rect x="96" y="179" width="1" height="1"/><rect x="97" y="180" width="1" height="1"/><rect x="98" y="181" width="1" height="1"/><rect x="99" y="182" width="1" height="1"/><rect x="100" y="183" width="1" height="1"/><rect x="101" y="184" width="1" height="1"/><rect x="102" y="185" width="1" height="1"/><rect x="103" y="186" width="1" height="1"/><rect x="104" y="187" width="1" height="1"/><rect x="105" y="188" width="1" height="1"/><rect x="106" y="189" width="1" height="1"/><rect x="107" y="190" width="1" height="1"/><rect x="108" y="191" width="1" height="1"/><rect x="109" y="192" width="1" height="1"/><rect x="110" y="193" width="1" height="1"/><rect x="111" y="194" width="1" height="1"/><rect x="112" y="195" width="1" height="1"/><rect x="113" y="196" width="1" height="1"/><rect x="114" y="197" width="1" height="1"/><rect x="115" y="198" width="1" height="1"/><rect x="116" y="199" width="1" height="1"/><rect x="117" y="200" width="1" height="1"/><rect x="118" y="201" width="1" height="1"/><rect x="119" y="202" width="1" height="1"/><rect x="120" y="203" width="1" height="1"/><rect x="121" y="204" width="1" height="1"/><rect x="122" y="205" width="1" height="1"/><rect x="123" y="206" width="1" height="1"/><rect x="124" y="207" width="1" height="1"/><rect x="125" y="208" width="1" height="1"/><rect x="126" y="209" width="1" height="1"/><rect x="127" y="210" width="1" height="1"/><rect x="128" y="211" width="1" height="1"/><rect x="129" y="212" width="1" height="1"/><rect x="130" y="213" width="1" height="1"/><rect x="131" y="214" width="1" height="1"/><rect x="132" y="215" width="1" height="1"/><rect x="133" y="216" width="1" height="1"/><rect x="134" y="217" width="1" height="1"/><rect x="135" y="218" width="1" height="1"/><rect x="136" y="219" width="1" height="1"/><rect x="137" y="220" width="1" height="1"/><rect x="138" y="221" width="1" height="1"/><rect x="139" y="222" width="1" height="1"/><rect x="140" y="223" width="1" height="1"/><rect x="141" y="224" width="1" height="1"/><rect x="142" y="225" width="1" height="1"/><rect x="143" y="226" width="1" height="1"/><rect x="144" y="227" width="1" height="1"/><rect x="145" y="228" width="1" height="1"/><rect x="146" y="229" width="1" height="1"/><rect x="147" y="230" width="1" height="1"/><rect x="148" y="231" width="2" height="1"/><rect x="150" y="232" width="1" height="1"/><rect x="151" y="233" width="2" height="1"/><rect x="153" y="234" width="1" height="1"/><rect x="154" y="235" width="1" height="1"/><rect x="155" y="236" width="2" height="1"/><rect x="157" y="237" width="1" height="1"/><rect x="158" y="238" width="2" height="1"/><rect x="160" y="239" width="2" height="1"/><rect x="162" y="240" width="2" height="1"/><rect x="164" y="241" width="2" height="1"/><rect x="166" y="242" width="2" height="1"/><rect x="168" y="243" width="2" height="1"/><rect x="170" y="244" width="2" height="1"/><rect x="172" y="245" width="2" height="1"/><rect x="174" y="246" width="2" height="1"/><rect x="176" y="247" width="1" height="1"/><rect x="177" y="248" width="1" height="1"/><rect x="178" y="249" width="1" height="1"/><rect x="179" y="250" width="1" height="1"/><rect x="180" y="251" width="1" height="1"/><rect x="181" y="252" width="1" height="1"/><rect x="182" y="253" width="1" height="1"/><rect x="183" y="254" width="1" height="1"/><rect x="184" y="255" width="1" height="1"/><rect x="185" y="256" width="1" height="1"/><rect x="186" y="257" width="1" height="1"/><rect x="187" y="258" width="1" height="1"/><rect x="188" y="259" width="1" height="1"/><rect x="189" y="260" width="1" height="1"/><rect x="190" y="261" width="1" height="1"/><rect x="191" y="262" width="1" height="1"/><rect x="192" y="263" width="1" height="2"/><rect x="193" y="265" width="1" height="1"/><rect x="194" y="266" width="1" height="1"/><rect x="195" y="267" width="1" height="1"/><rect x="196" y="268" width="1" height="1"/><rect x="197" y="269" width="1" height="2"/><rect x="198" y="271" width="1" height="1"/><rect x="199" y="272" width="1" height="1"/><rect x="200" y="273" width="1" height="1"/><rect x="201" y="274" width="1" height="1"/><rect x="202" y="275" width="1" height="2"/><rect x="203" y="277" width="1" height="1"/><rect x="204" y="278" width="1" height="1"/><rect x="205" y="279" width="1" height="1"/><rect x="206" y="280" width="1" height="1"/><rect x="207" y="281" width="1" height="2"/><rect x="208" y="283" width="2" height="1"/><rect x="210" y="284" width="1" height="1"/><rect x="211" y="285" width="1" height="1"/><rect x="212" y="286" width="1" height="1"/><rect x="213" y="287" width="1" height="1"/><rect x="214" y="288" width="1" height="1"/><rect x="215" y="289" width="1" height="1"/><rect x="216" y="290" width="1" height="1"/><rect x="217" y="291" width="1" height="1"/><rect x="218" y="292" width="1" height="1"/><rect x="219" y="293" width="1" height="1"/><rect x="220" y="294" width="2" height="1"/><rect x="222" y="295" width="1" height="1"/><rect x="223" y="296" width="1" height="1"/><rect x="224" y="297" width="1" height="1"/><rect x="225" y="298" width="2" height="1"/><rect x="227" y="299" width="1" height="1"/><rect x="228" y="300" width="1" height="1"/><rect x="229" y="301" width="1" height="1"/><rect x="230" y="302" width="2" height="1"/><rect x="232" y="303" width="1" height="1"/><rect x="233" y="304" width="2" height="1"/><rect x="235" y="305" width="1" height="1"/><rect x="236" y="306" width="2" height="1"/><rect x="238" y="307" width="1" height="1"/><rect x="239" y="308" width="2" height="1"/><rect x="241" y="309" width="2" height="1"/><rect x="243" y="310" width="1" height="1"/><rect x="244" y="311" width="2" height="1"/><rect x="246" y="312" width="3" height="1"/><rect x="249" y="313" width="2" height="1"/><rect x="251" y="314" width="2" height="1"/><rect x="253" y="315" width="2" height="1"/><rect x="255" y="316" width="3" height="1"/><rect x="258" y="315" width="4" height="1"/><rect x="262" y="314" width="2" height="1"/><rect x="264" y="313" width="2" height="1"/><rect x="266" y="312" width="2" height="1"/><rect x="268" y="311" width="3" height="1"/><rect x="271" y="310" width="2" height="1"/><rect x="273" y="309" width="2" height="1"/><rect x="275" y="308" width="2" height="1"/><rect x="277" y="307" width="3" height="1"/><rect x="280" y="306" width="2" height="1"/><rect x="282" y="305" width="3" height="1"/><rect x="285" y="304" width="2" height="1"/><rect x="287" y="303" width="3" height="1"/><rect x="290" y="302" width="2" height="1"/><rect x="292" y="301" width="3" height="1"/><rect x="295" y="300" width="3" height="1"/><rect x="298" y="299" width="3" height="1"/><rect x="301" y="298" width="2" height="1"/><rect x="303" y="297" width="3" height="1"/><rect x="306" y="296" width="3" height="1"/><rect x="309" y="295" width="21" height="1"/><rect x="330" y="294" width="2" height="1"/><rect x="332" y="293" width="3" height="1"/><rect x="335" y="292" width="2" height="1"/><rect x="337" y="291" width="3" height="1"/><rect x="340" y="290" width="2" height="1"/><rect x="342" y="289" width="3" height="1"/><rect x="345" y="288" width="3" height="1"/><rect x="348" y="287" width="2" height="1"/><rect x="350" y="286" width="2" height="1"/><rect x="352" y="285" width="2" height="1"/><rect x="354" y="284" width="1" height="1"/><rect x="355" y="283" width="1" height="1"/><rect x="356" y="282" width="2" height="1"/><rect x="358" y="281" width="1" height="1"/><rect x="359" y="280" width="2" height="1"/><rect x="361" y="279" width="1" height="1"/><rect x="362" y="278" width="2" height="1"/><rect x="364" y="277" width="1" height="1"/><rect x="365" y="276" width="1" height="1"/><rect x="366" y="275" width="2" height="1"/><rect x="368" y="274" width="1" height="1"/><rect x="369" y="273" width="1" height="1"/><rect x="370" y="272" width="1" height="1"/><rect x="371" y="271" width="2" height="1"/><rect x="373" y="270" width="1" height="1"/><rect x="374" y="269" width="1" height="1"/><rect x="375" y="268" width="1" height="1"/><rect x="376" y="267" width="2" height="1"/><rect x="378" y="266" width="1" height="1"/><rect x="379" y="265" width="1" height="1"/><rect x="380" y="264" width="2" height="1"/><rect x="382" y="262" width="1" height="2"/><rect x="383" y="261" width="1" height="1"/><rect x="384" y="260" width="1" height="1"/><rect x="385" y="259" width="1" height="1"/><rect x="386" y="258" width="1" height="1"/><rect x="387" y="256" width="1" height="2"/><rect x="388" y="255" width="1" height="1"/><rect x="389" y="254" width="1" height="1"/><rect x="390" y="253" width="1" height="1"/><rect x="391" y="252" width="1" height="1"/><rect x="392" y="251" width="1" height="1"/><rect x="393" y="249" width="1" height="2"/><rect x="394" y="248" width="1" height="1"/><rect x="395" y="247" width="1" height="1"/><rect x="396" y="246" width="1" height="1"/><rect x="397" y="245" width="1" height="1"/><rect x="398" y="244" width="1" height="1"/><rect x="399" y="242" width="1" height="2"/><rect x="400" y="241" width="1" height="1"/><rect x="401" y="240" width="1" height="1"/><rect x="402" y="239" width="1" height="1"/><rect x="403" y="238" width="1" height="1"/><rect x="404" y="237" width="1" height="1"/><rect x="405" y="235" width="1" height="2"/><rect x="406" y="234" width="1" height="1"/><rect x="407" y="233" width="1" height="1"/><rect x="408" y="232" width="1" height="1"/><rect x="409" y="231" width="1" height="1"/><rect x="410" y="230" width="1" height="1"/><rect x="411" y="229" width="1" height="1"/><rect x="412" y="227" width="1" height="2"/><rect x="413" y="226" width="1" height="1"/><rect x="414" y="225" width="1" height="1"/><rect x="415" y="224" width="1" height="1"/><rect x="416" y="223" width="1" height="1"/><rect x="417" y="222" width="1" height="1"/><rect x="418" y="221" width="1" height="1"/><rect x="419" y="220" width="1" height="1"/><rect x="420" y="219" width="1" height="1"/><rect x="421" y="218" width="1" height="1"/><rect x="422" y="216" width="1" height="2"/><rect x="423" y="215" width="1" height="1"/><rect x="424" y="214" width="1" height="1"/><rect x="425" y="213" width="1" height="1"/><rect x="426" y="212" width="1" height="1"/><rect x="427" y="211" width="1" height="1"/><rect x="428" y="210" width="1" height="1"/><rect x="429" y="208" width="1" height="2"/><rect x="430" y="207" width="1" height="1"/><rect x="431" y="206" width="1" height="1"/><rect x="432" y="205" width="1" height="1"/><rect x="433" y="203" width="1" height="2"/><rect x="434" y="202" width="1" height="1"/><rect x="435" y="201" width="1" height="1"/><rect x="436" y="200" width="1" height="1"/><rect x="437" y="199" width="1" height="1"/><rect x="438" y="198" width="1" height="1"/><rect x="439" y="197" width="1" height="1"/><rect x="440" y="196" width="1" height="1"/><rect x="441" y="195" width="1" height="1"/><rect x="442" y="194" width="1" height="1"/><rect x="443" y="193" width="1" height="1"/><rect x="444" y="192" width="1" height="1"/><rect x="445" y="191" width="1" height="1"/><rect x="446" y="190" width="1" height="1"/><rect x="447" y="188" width="1" height="2"/><rect x="448" y="187" width="1" height="1"/><rect x="449" y="186" width="1" height="1"/><rect x="450" y="185" width="1" height="1"/><rect x="451" y="184" width="1" height="1"/><rect x="452" y="183" width="1" height="1"/><rect x="453" y="182" width="1" height="1"/><rect x="454" y="181" width="1" height="1"/><rect x="455" y="180" width="1" height="1"/><rect x="456" y="179" width="1" height="1"/><rect x="457" y="178" width="1" height="1"/><rect x="458" y="176" width="1" height="2"/><rect x="459" y="175" width="1" height="1"/><rect x="460" y="174" width="1" height="1"/><rect x="461" y="173" width="1" height="1"/><rect x="462" y="172" width="1" height="1"/><rect x="463" y="171" width="1" height="1"/><rect x="464" y="170" width="1" height="1"/><rect x="465" y="168" width="1" height="2"/><rect x="466" y="167" width="1" height="1"/><rect x="467" y="166" width="1" height="1"/><rect x="468" y="165" width="1" height="1"/><rect x="469" y="164" width="1" height="1"/><rect x="470" y="163" width="1" height="1"/><rect x="471" y="162" width="1" height="1"/><rect x="472" y="160" width="1" height="2"/><rect x="473" y="159" width="1" height="1"/><rect x="474" y="158" width="1" height="1"/><rect x="475" y="157" width="1" height="1"/><rect x="476" y="156" width="1" height="1"/><rect x="477" y="155" width="1" height="1"/><rect x="478" y="154" width="1" height="1"/><rect x="479" y="153" width="1" height="1"/><rect x="480" y="152" width="1" height="1"/><rect x="481" y="150" width="1" height="2"/><rect x="482" y="149" width="1" height="1"/><rect x="483" y="148" width="1" height="1"/><rect x="484" y="147" width="1" height="1"/><rect x="485" y="146" width="1" height="1"/><rect x="486" y="145" width="1" height="1"/><rect x="487" y="144" width="1" height="1"/><rect x="488" y="143" width="1" height="1"/><rect x="489" y="142" width="1" height="1"/><rect x="490" y="141" width="2" height="1"/><rect x="492" y="140" width="1" height="1"/><rect x="493" y="139" width="1" height="1"/><rect x="494" y="138" width="1" height="1"/><rect x="495" y="137" width="1" height="1"/><rect x="496" y="136" width="1" height="1"/><rect x="497" y="135" width="1" height="1"/><rect x="498" y="134" width="1" height="1"/><rect x="499" y="133" width="1" height="1"/><rect x="500" y="132" width="1" height="1"/><rect x="501" y="131" width="1" height="1"/><rect x="502" y="130" width="1" height="1"/><rect x="503" y="129" width="1" height="1"/><rect x="504" y="128" width="1" height="1"/><rect x="505" y="127" width="1" height="1"/><rect x="506" y="126" width="1" height="1"/><rect x="507" y="125" width="1" height="1"/><rect x="508" y="124" width="2" height="1"/><rect x="510" y="123" width="1" height="1"/><rect x="511" y="122" width="1" height="1"/><rect x="512" y="121" width="2" height="1"/><rect x="514" y="120" width="1" height="1"/><rect x="515" y="119" width="2" height="1"/><rect x="517" y="118" width="1" height="1"/><rect x="518" y="117" width="2" height="1"/><rect x="520" y="116" width="1" height="1"/><rect x="521" y="115" width="2" height="1"/><rect x="523" y="114" width="2" height="1"/><rect x="525" y="113" width="2" height="1"/><rect x="527" y="112" width="1" height="1"/><rect x="528" y="111" width="2" height="1"/><rect x="530" y="110" width="1" height="1"/><rect x="531" y="109" width="2" height="1"/><rect x="533" y="108" width="1" height="1"/><rect x="534" y="107" width="2" height="1"/><rect x="536" y="106" width="1" height="1"/><rect x="537" y="105" width="2" height="1"/><rect x="539" y="104" width="4" height="1"/><rect x="543" y="103" width="19" height="1"/><rect x="562" y="104" width="2" height="1"/><rect x="564" y="105" width="2" height="1"/><rect x="566" y="106" width="3" height="1"/><rect x="569" y="107" width="4" height="1"/><rect x="573" y="108" width="4" height="1"/><rect x="577" y="109" width="2" height="1"/><rect x="579" y="110" width="3" height="1"/><rect x="582" y="111" width="2" height="1"/><rect x="584" y="112" width="2" height="1"/><rect x="586" y="113" width="2" height="1"/><rect x="588" y="114" width="3" height="1"/><rect x="591" y="115" width="1" height="1"/><rect x="592" y="116" width="1" height="1"/><rect x="593" y="117" width="1" height="1"/><rect x="594" y="118" width="1" height="1"/><rect x="595" y="119" width="1" height="1"/><rect x="596" y="120" width="1" height="1"/><rect x="597" y="121" width="1" height="1"/><rect x="598" y="122" width="1" height="1"/><rect x="599" y="123" width="1" height="2"/><rect x="600" y="125" width="1" height="1"/><rect x="601" y="126" width="1" height="1"/><rect x="602" y="127" width="1" height="1"/><rect x="603" y="128" width="1" height="1"/><rect x="604" y="129" width="1" height="1"/><rect x="605" y="130" width="1" height="1"/><rect x="606" y="131" width="1" height="1"/><rect x="607" y="132" width="1" height="1"/><rect x="608" y="133" width="1" height="1"/><rect x="609" y="134" width="1" height="1"/><rect x="610" y="135" width="1" height="1"/><rect x="611" y="136" width="1" height="1"/><rect x="612" y="137" width="1" height="1"/><rect x="613" y="138" width="1" height="1"/><rect x="614" y="139" width="1" height="2"/><rect x="615" y="140" width="1" height="1"/><rect x="616" y="141" width="1" height="1"/><rect x="617" y="142" width="1" height="1"/><rect x="618" y="143" width="1" height="1"/><rect x="619" y="144" width="1" height="1"/><rect x="620" y="145" width="1" height="1"/><rect x="621" y="146" width="1" height="1"/><rect x="622" y="147" width="1" height="1"/><rect x="623" y="148" width="1" height="1"/><rect x="624" y="149" width="1" height="1"/><rect x="625" y="150" width="1" height="1"/><rect x="626" y="151" width="1" height="1"/><rect x="627" y="152" width="1" height="1"/><rect x="628" y="153" width="1" height="1"/><rect x="629" y="154" width="1" height="1"/><rect x="630" y="155" width="1" height="1"/><rect x="631" y="156" width="1" height="1"/><rect x="632" y="157" width="1" height="2"/><rect x="633" y="159" width="1" height="1"/><rect x="634" y="160" width="1" height="1"/><rect x="635" y="161" width="1" height="1"/><rect x="636" y="162" width="1" height="1"/><rect x="637" y="163" width="1" height="1"/><rect x="638" y="164" width="1" height="2"/><rect x="639" y="166" width="1" height="1"/><rect x="640" y="167" width="1" height="1"/><rect x="641" y="168" width="1" height="1"/><rect x="642" y="169" width="1" height="2"/><rect x="643" y="171" width="1" height="1"/><rect x="644" y="172" width="1" height="1"/><rect x="645" y="173" width="1" height="2"/><rect x="646" y="175" width="1" height="1"/><rect x="647" y="176" width="1" height="1"/><rect x="648" y="177" width="1" height="2"/><rect x="649" y="179" width="1" height="1"/><rect x="650" y="180" width="1" height="1"/><rect x="651" y="181" width="1" height="2"/><rect x="652" y="183" width="1" height="1"/><rect x="653" y="184" width="1" height="1"/><rect x="654" y="185" width="1" height="1"/><rect x="655" y="186" width="1" height="2"/><rect x="656" y="188" width="1" height="1"/><rect x="657" y="189" width="1" height="1"/><rect x="658" y="190" width="1" height="2"/><rect x="659" y="192" width="1" height="1"/><rect x="660" y="193" width="1" height="1"/><rect x="661" y="194" width="1" height="1"/><rect x="662" y="195" width="1" height="2"/><rect x="663" y="197" width="1" height="1"/><rect x="664" y="198" width="1" height="1"/><rect x="665" y="199" width="1" height="1"/><rect x="666" y="200" width="1" height="1"/><rect x="667" y="201" width="1" height="2"/><rect x="668" y="203" width="1" height="1"/><rect x="669" y="204" width="1" height="1"/><rect x="670" y="205" width="1" height="1"/><rect x="671" y="206" width="1" height="1"/><rect x="672" y="207" width="1" height="2"/><rect x="673" y="209" width="1" height="1"/><rect x="674" y="210" width="1" height="1"/><rect x="675" y="211" width="1" height="1"/><rect x="676" y="212" width="1" height="1"/><rect x="677" y="213" width="1" height="1"/><rect x="678" y="214" width="1" height="2"/><rect x="679" y="216" width="1" height="1"/><rect x="680" y="217" width="1" height="1"/><rect x="681" y="218" width="1" height="1"/><rect x="682" y="219" width="1" height="2"/><rect x="683" y="221" width="1" height="2"/><rect x="684" y="223" width="1" height="2"/><rect x="685" y="225" width="1" height="2"/><rect x="686" y="227" width="1" height="2"/><rect x="687" y="229" width="1" height="2"/><rect x="688" y="231" width="1" height="2"/><rect x="689" y="233" width="1" height="2"/><rect x="690" y="235" width="1" height="2"/><rect x="691" y="237" width="1" height="1"/><rect x="692" y="238" width="1" height="2"/><rect x="693" y="240" width="1" height="2"/><rect x="694" y="242" width="1" height="1"/><rect x="695" y="243" width="1" height="2"/><rect x="696" y="245" width="1" height="1"/><rect x="697" y="246" width="1" height="2"/><rect x="698" y="248" width="1" height="1"/><rect x="699" y="249" width="1" height="2"/><rect x="700" y="251" width="1" height="1"/><rect x="701" y="252" width="1" height="2"/><rect x="702" y="254" width="1" height="1"/><rect x="703" y="255" width="1" height="2"/><rect x="704" y="257" width="1" height="1"/><rect x="705" y="258" width="1" height="1"/><rect x="706" y="259" width="1" height="2"/><rect x="707" y="261" width="1" height="1"/><rect x="708" y="262" width="1" height="1"/><rect x="709" y="263" width="1" height="1"/><rect x="710" y="264" width="1" height="1"/><rect x="711" y="265" width="1" height="2"/><rect x="712" y="267" width="1" height="1"/><rect x="713" y="268" width="1" height="1"/><rect x="714" y="269" width="1" height="1"/><rect x="715" y="270" width="1" height="1"/><rect x="716" y="271" width="1" height="1"/><rect x="717" y="272" width="1" height="2"/><rect x="718" y="274" width="1" height="1"/><rect x="719" y="275" width="1" height="2"/><rect x="720" y="277" width="1" height="1"/><rect x="721" y="278" width="1" height="1"/><rect x="722" y="279" width="1" height="2"/><rect x="723" y="281" width="1" height="1"/><rect x="724" y="282" width="1" height="1"/><rect x="725" y="283" width="1" height="2"/><rect x="726" y="285" width="1" height="1"/><rect x="727" y="286" width="1" height="2"/><rect x="728" y="288" width="1" height="1"/><rect x="729" y="289" width="1" height="1"/><rect x="730" y="290" width="1" height="2"/><rect x="731" y="292" width="1" height="1"/><rect x="732" y="293" width="1" height="2"/><rect x="733" y="295" width="1" height="1"/><rect x="734" y="296" width="1" height="2"/><rect x="735" y="298" width="1" height="2"/><rect x="736" y="300" width="1" height="1"/><rect x="737" y="301" width="1" height="2"/><rect x="738" y="303" width="1" height="1"/><rect x="739" y="304" width="1" height="1"/><rect x="740" y="305" width="1" height="2"/><rect x="741" y="307" width="1" height="1"/><rect x="742" y="308" width="1" height="1"/><rect x="743" y="309" width="1" height="1"/><rect x="744" y="310" width="1" height="1"/><rect x="745" y="311" width="1" height="2"/><rect x="746" y="313" width="1" height="1"/><rect x="747" y="314" width="1" height="1"/><rect x="748" y="315" width="1" height="1"/><rect x="749" y="316" width="1" height="2"/><rect x="750" y="318" width="1" height="1"/><rect x="751" y="319" width="1" height="1"/><rect x="752" y="320" width="1" height="2"/><rect x="753" y="322" width="1" height="1"/><rect x="754" y="323" width="1" height="1"/><rect x="755" y="324" width="1" height="2"/><rect x="756" y="326" width="1" height="1"/><rect x="757" y="327" width="1" height="1"/><rect x="758" y="328" width="1" height="2"/><rect x="759" y="329" width="1" height="1"/><rect x="760" y="330" width="1" height="1"/><rect x="761" y="331" width="1" height="1"/><rect x="762" y="332" width="2" height="1"/><rect x="764" y="333" width="1" height="1"/><rect x="765" y="334" width="1" height="1"/><rect x="766" y="335" width="1" height="1"/><rect x="767" y="336" width="5" height="1"/><rect x="772" y="337" width="4" height="1"/><rect x="776" y="338" width="2" height="1"/><rect x="778" y="339" width="2" height="1"/><rect x="780" y="340" width="2" height="1"/><rect x="782" y="341" width="2" height="1"/><rect x="784" y="342" width="2" height="1"/><rect x="786" y="343" width="2" height="1"/><rect x="788" y="344" width="2" height="1"/><rect x="790" y="345" width="1" height="1"/><rect x="791" y="346" width="2" height="1"/><rect x="793" y="347" width="1" height="1"/><rect x="794" y="348" width="2" height="1"/><rect x="796" y="349" width="1" height="1"/><rect x="797" y="350" width="2" height="1"/><rect x="799" y="351" width="1" height="1"/><rect x="800" y="352" width="2" height="1"/><rect x="802" y="353" width="2" height="1"/><rect x="804" y="354" width="2" height="1"/><rect x="806" y="355" width="5" height="1"/><rect x="811" y="356" width="5" height="1"/><rect x="816" y="357" width="4" height="1"/><rect x="820" y="358" width="5" height="1"/><rect x="825" y="359" width="5" height="1"/><rect x="830" y="360" width="3" height="1"/><rect x="833" y="361" width="3" height="1"/><rect x="836" y="362" width="13" height="1"/><rect x="849" y="361" width="2" height="1"/><rect x="851" y="360" width="1" height="1"/><rect x="852" y="359" width="2" height="1"/><rect x="854" y="358" width="2" height="1"/><rect x="856" y="357" width="2" height="1"/><rect x="858" y="356" width="1" height="1"/><rect x="859" y="355" width="2" height="1"/><rect x="861" y="354" width="2" height="1"/><rect x="863" y="353" width="2" height="1"/><rect x="865" y="352" width="2" height="1"/><rect x="867" y="351" width="2" height="1"/><rect x="869" y="350" width="2" height="1"/><rect x="871" y="349" width="4" height="1"/><rect x="875" y="348" width="5" height="1"/><rect x="880" y="347" width="13" height="1"/><rect x="893" y="346" width="6" height="1"/><rect x="899" y="345" width="4" height="1"/><rect x="903" y="346" width="9" height="1"/><rect x="912" y="345" width="6" height="1"/><rect x="918" y="344" width="6" height="1"/><rect x="924" y="343" width="12" height="1"/><rect x="936" y="344" width="5" height="1"/><rect x="941" y="345" width="5" height="1"/><rect x="946" y="346" width="9" height="1"/><rect x="955" y="347" width="35" height="1"/><rect x="990" y="346" width="18" height="1"/><rect x="1008" y="347" width="3" height="1"/><rect x="1011" y="348" width="2" height="1"/><rect x="1013" y="349" width="3" height="1"/><rect x="1016" y="350" width="3" height="1"/><rect x="1019" y="351" width="3" height="1"/><rect x="1022" y="352" width="4" height="1"/><rect x="1026" y="353" width="3" height="1"/><rect x="1029" y="354" width="5" height="1"/><rect x="1034" y="355" width="5" height="1"/><rect x="1039" y="356" width="10" height="1"/><rect x="1049" y="355" width="3" height="1"/><rect x="1052" y="354" width="4" height="1"/><rect x="1056" y="353" width="4" height="1"/><rect x="1060" y="352" width="1" height="1"/><rect x="1061" y="351" width="2" height="1"/><rect x="1063" y="350" width="2" height="1"/><rect x="1065" y="349" width="2" height="1"/><rect x="1067" y="348" width="2" height="1"/><rect x="1069" y="347" width="2" height="1"/><rect x="1071" y="346" width="3" height="1"/><rect x="1074" y="345" width="2" height="1"/><rect x="1076" y="344" width="2" height="1"/><rect x="1078" y="343" width="3" height="1"/><rect x="1081" y="342" width="2" height="1"/><rect x="1083" y="341" width="3" height="1"/><rect x="1086" y="340" width="3" height="1"/><rect x="1089" y="339" width="3" height="1"/><rect x="1092" y="338" width="1" height="1"/><rect x="1093" y="337" width="1" height="1"/><rect x="1094" y="336" width="2" height="1"/><rect x="1096" y="335" width="1" height="1"/><rect x="1097" y="334" width="1" height="1"/><rect x="1098" y="333" width="2" height="1"/><rect x="1100" y="332" width="1" height="1"/><rect x="1101" y="331" width="2" height="1"/><rect x="1103" y="330" width="1" height="1"/><rect x="1104" y="329" width="1" height="1"/><rect x="1105" y="328" width="1" height="1"/><rect x="1106" y="327" width="1" height="1"/><rect x="1107" y="326" width="2" height="1"/><rect x="1109" y="325" width="1" height="1"/><rect x="1110" y="324" width="1" height="1"/><rect x="1111" y="323" width="1" height="1"/><rect x="1112" y="322" width="1" height="1"/><rect x="1113" y="321" width="1" height="1"/><rect x="1114" y="320" width="1" height="1"/><rect x="1115" y="319" width="1" height="1"/><rect x="1116" y="318" width="2" height="1"/><rect x="1118" y="317" width="1" height="1"/><rect x="1119" y="316" width="1" height="1"/><rect x="1120" y="315" width="1" height="1"/><rect x="1121" y="314" width="1" height="1"/><rect x="1122" y="313" width="1" height="1"/><rect x="1123" y="312" width="1" height="1"/><rect x="1124" y="311" width="2" height="1"/><rect x="1126" y="310" width="1" height="1"/><rect x="1127" y="309" width="1" height="1"/><rect x="1128" y="308" width="1" height="1"/><rect x="1129" y="307" width="1" height="1"/><rect x="1130" y="306" width="1" height="1"/><rect x="1131" y="305" width="1" height="1"/><rect x="1132" y="304" width="2" height="1"/><rect x="1134" y="303" width="1" height="1"/><rect x="1135" y="302" width="1" height="1"/><rect x="1136" y="301" width="1" height="1"/><rect x="1137" y="300" width="2" height="1"/><rect x="1139" y="299" width="3" height="1"/><rect x="1142" y="298" width="2" height="1"/><rect x="1144" y="297" width="2" height="1"/><rect x="1146" y="296" width="2" height="1"/><rect x="1148" y="295" width="2" height="1"/><rect x="1150" y="294" width="3" height="1"/><rect x="1153" y="293" width="1" height="1"/><rect x="1154" y="292" width="2" height="1"/><rect x="1156" y="291" width="1" height="1"/><rect x="1157" y="290" width="1" height="1"/><rect x="1158" y="289" width="2" height="1"/><rect x="1160" y="288" width="1" height="1"/><rect x="1161" y="287" width="1" height="1"/><rect x="1162" y="286" width="2" height="1"/><rect x="1164" y="285" width="1" height="1"/><rect x="1165" y="284" width="1" height="1"/><rect x="1166" y="283" width="2" height="1"/><rect x="1168" y="282" width="1" height="1"/><rect x="1169" y="281" width="2" height="1"/><rect x="1171" y="280" width="2" height="1"/><rect x="1173" y="279" width="2" height="1"/><rect x="1175" y="278" width="2" height="1"/><rect x="1177" y="277" width="11" height="1"/><rect x="1188" y="278" width="1" height="1"/><rect x="1189" y="279" width="1" height="1"/><rect x="1190" y="280" width="2" height="1"/><rect x="1192" y="281" width="1" height="1"/><rect x="1193" y="282" width="1" height="1"/><rect x="1194" y="283" width="2" height="1"/><rect x="1196" y="284" width="2" height="1"/><rect x="1198" y="285" width="2" height="1"/><rect x="1200" y="286" width="2" height="1"/><rect x="1202" y="287" width="2" height="1"/><rect x="1204" y="288" width="2" height="1"/><rect x="1206" y="289" width="2" height="1"/><rect x="1208" y="290" width="1" height="1"/><rect x="1209" y="291" width="1" height="1"/><rect x="1210" y="292" width="1" height="1"/><rect x="1211" y="293" width="1" height="1"/><rect x="1212" y="294" width="2" height="1"/><rect x="1214" y="295" width="1" height="1"/><rect x="1215" y="296" width="1" height="1"/><rect x="1216" y="297" width="1" height="1"/><rect x="1217" y="298" width="2" height="1"/><rect x="1219" y="299" width="1" height="1"/><rect x="1220" y="300" width="2" height="1"/><rect x="1222" y="301" width="2" height="1"/><rect x="1224" y="302" width="1" height="1"/><rect x="1225" y="303" width="2" height="1"/><rect x="1227" y="304" width="1" height="1"/><rect x="1228" y="305" width="2" height="1"/><rect x="1230" y="306" width="1" height="1"/><rect x="1231" y="307" width="2" height="1"/><rect x="1233" y="308" width="1" height="1"/><rect x="1234" y="309" width="2" height="1"/><rect x="1236" y="310" width="1" height="1"/><rect x="1237" y="311" width="1" height="1"/><rect x="1238" y="312" width="2" height="1"/><rect x="1240" y="313" width="1" height="1"/><rect x="1241" y="314" width="2" height="1"/><rect x="1243" y="315" width="1" height="1"/><rect x="1244" y="316" width="1" height="1"/><rect x="1245" y="317" width="1" height="1"/><rect x="1246" y="318" width="2" height="1"/><rect x="1248" y="319" width="1" height="1"/><rect x="1249" y="320" width="1" height="1"/><rect x="1250" y="321" width="2" height="1"/><rect x="1252" y="322" width="1" height="1"/><rect x="1253" y="323" width="1" height="1"/><rect x="1254" y="324" width="1" height="1"/><rect x="1255" y="325" width="1" height="1"/><rect x="1256" y="326" width="1" height="1"/><rect x="1257" y="327" width="1" height="1"/><rect x="1258" y="328" width="1" height="1"/><rect x="1259" y="329" width="1" height="1"/><rect x="1260" y="330" width="1" height="1"/><rect x="1261" y="331" width="1" height="2"/><rect x="1262" y="333" width="1" height="1"/><rect x="1263" y="334" width="1" height="1"/><rect x="1264" y="335" width="1" height="1"/><rect x="1265" y="336" width="1" height="1"/><rect x="1266" y="337" width="1" height="1"/><rect x="1267" y="338" width="1" height="1"/><rect x="1268" y="339" width="1" height="1"/><rect x="1269" y="340" width="1" height="1"/><rect x="1270" y="341" width="1" height="1"/><rect x="1271" y="342" width="1" height="2"/><rect x="1272" y="344" width="1" height="1"/><rect x="1273" y="345" width="1" height="1"/><rect x="1274" y="346" width="1" height="2"/><rect x="1275" y="348" width="1" height="1"/><rect x="1276" y="349" width="1" height="2"/><rect x="1277" y="351" width="1" height="1"/><rect x="1278" y="352" width="1" height="1"/><rect x="1279" y="353" width="1" height="1"/><rect x="1280" y="354" width="1" height="1"/><rect x="1281" y="355" width="1" height="2"/><rect x="1282" y="357" width="1" height="1"/><rect x="1283" y="358" width="1" height="1"/><rect x="1284" y="359" width="1" height="1"/><rect x="1285" y="360" width="1" height="1"/><rect x="1286" y="361" width="1" height="1"/><rect x="1287" y="362" width="1" height="2"/><rect x="1288" y="364" width="1" height="1"/><rect x="1289" y="365" width="1" height="2"/><rect x="1290" y="367" width="1" height="1"/><rect x="1291" y="368" width="1" height="2"/><rect x="1292" y="370" width="1" height="1"/><rect x="1293" y="371" width="1" height="2"/><rect x="1294" y="373" width="1" height="1"/><rect x="1295" y="374" width="1" height="2"/><rect x="1296" y="376" width="1" height="1"/><rect x="1297" y="377" width="1" height="1"/><rect x="1298" y="378" width="1" height="2"/><rect x="1299" y="380" width="1" height="1"/><rect x="1300" y="381" width="1" height="1"/><rect x="1301" y="382" width="1" height="2"/><rect x="1302" y="384" width="1" height="1"/><rect x="1303" y="385" width="1" height="1"/><rect x="1304" y="386" width="1" height="2"/><rect x="1305" y="388" width="1" height="1"/><rect x="1306" y="389" width="1" height="1"/><rect x="1307" y="390" width="1" height="2"/><rect x="1308" y="392" width="1" height="1"/><rect x="1309" y="393" width="1" height="1"/><rect x="1310" y="394" width="1" height="2"/></g>
<g fill="#ff0000" shape-rendering="crispEdges"><rect x="0" y="545" width="3" height="1"/><rect x="6" y="546" width="3" height="1"/><rect x="12" y="547" width="3" height="1"/><rect x="18" y="548" width="3" height="1"/><rect x="24" y="548" width="3" height="1"/><rect x="30" y="549" width="3" height="1"/><rect x="36" y="550" width="3" height="1"/><rect x="42" y="550" width="3" height="1"/><rect x="48" y="550" width="2" height="1"/><rect x="50" y="551" width="1" height="1"/><rect x="54" y="551" width="2" height="1"/><rect x="56" y="552" width="1" height="1"/><rect x="60" y="552" width="3" height="1"/><rect x="66" y="552" width="1" height="1"/><rect x="67" y="553" width="2" height="1"/><rect x="72" y="553" width="3" height="1"/><rect x="78" y="553" width="3" height="1"/><rect x="84" y="554" width="3" height="1"/><rect x="90" y="554" width="3" height="1"/><rect x="96" y="555" width="3" height="1"/><rect x="102" y="557" width="3" height="1"/><rect x="108" y="559" width="3" height="1"/><rect x="114" y="560" width="1" height="1"/><rect x="115" y="561" width="2" height="1"/><rect x="120" y="562" width="1" height="1"/><rect x="121" y="563" width="2" height="1"/><rect x="126" y="565" width="3" height="1"/><rect x="132" y="567" width="3" height="1"/><rect x="138" y="569" width="3" height="1"/><rect x="144" y="571" width="2" height="1"/><rect x="146" y="572" width="1" height="1"/><rect x="150" y="573" width="1" height="1"/><rect x="151" y="574" width="2" height="1"/><rect x="156" y="575" width="3" height="1"/><rect x="162" y="576" width="1" height="1"/><rect x="163" y="577" width="2" height="1"/><rect x="168" y="578" width="3" height="1"/><rect x="174" y="579" width="3" height="1"/><rect x="180" y="579" width="2" height="1"/><rect x="182" y="580" width="1" height="1"/><rect x="186" y="580" width="3" height="1"/><rect x="192" y="580" width="3" height="1"/><rect x="198" y="580" width="3" height="1"/><rect x="204" y="580" width="3" height="1"/><rect x="210" y="580" width="3" height="1"/><rect x="216" y="579" width="3" height="1"/><rect x="222" y="579" width="3" height="1"/><rect x="228" y="579" width="3" height="1"/><rect x="234" y="578" width="3" height="1"/><rect x="240" y="578" width="3" height="1"/><rect x="246" y="577" width="3" height="1"/><rect x="252" y="577" width="3" height="1"/><rect x="258" y="576" width="3" height="1"/><rect x="264" y="576" width="2" height="1"/><rect x="266" y="575" width="1" height="1"/><rect x="270" y="575" width="3" height="1"/><rect x="276" y="574" width="3" height="1"/><rect x="282" y="573" width="1" height="1"/><rect x="283" y="572" width="2" height="1"/><rect x="288" y="571" width="3" height="1"/><rect x="294" y="570" width="3" height="1"/><rect x="300" y="569" width="3" height="1"/><rect x="306" y="568" width="3" height="1"/><rect x="312" y="568" width="3" height="1"/><rect x="318" y="567" width="3" height="1"/><rect x="324" y="567" width="3" height="1"/><rect x="330" y="566" width="3" height="1"/><rect x="336" y="566" width="3" height="1"/><rect x="342" y="565" width="3" height="1"/><rect x="348" y="565" width="3" height="1"/><rect x="354" y="564" width="3" height="1"/><rect x="360" y="564" width="2" height="1"/><rect x="362" y="563" width="1" height="1"/><rect x="366" y="563" width="3" height="1"/><rect x="372" y="562" width="3" height="1"/><rect x="378" y="562" width="1" height="1"/><rect x="379" y="561" width="2" height="1"/><rect x="384" y="561" width="1" height="1"/><rect x="385" y="560" width="2" height="1"/><rect x="390" y="560" width="2" height="1"/><rect x="392" y="559" width="1" height="1"/><rect x="396" y="559" width="2" height="1"/><rect x="398" y="558" width="1" height="1"/><rect x="402" y="557" width="2" height="1"/><rect x="404" y="556" width="1" height="1"/><rect x="408" y="555" width="3" height="1"/><rect x="414" y="554" width="1" height="1"/><rect x="415" y="553" width="2" height="1"/><rect x="420" y="552" width="3" height="1"/><rect x="426" y="551" width="1" height="1"/><rect x="427" y="550" width="2" height="1"/><rect x="432" y="549" width="1" height="1"/><rect x="433" y="548" width="2" height="1"/><rect x="438" y="547" width="2" height="1"/><rect x="440" y="546" width="1" height="1"/><rect x="444" y="545" width="3" height="1"/><rect x="450" y="544" width="3" height="1"/><rect x="456" y="543" width="2" height="1"/><rect x="458" y="542" width="1" height="1"/><rect x="462" y="542" width="2" height="1"/><rect x="464" y="541" width="1" height="1"/><rect x="468" y="541" width="3" height="1"/><rect x="474" y="541" width="3" height="1"/><rect x="480" y="541" width="3" height="1"/><rect x="486" y="541" width="3" height="1"/><rect x="492" y="541" width="3" height="1"/><rect x="498" y="541" width="3" height="1"/><rect x="504" y="542" width="3" height="1"/><rect x="510" y="542" width="2" height="1"/><rect x="512" y="543" width="1" height="1"/><rect x="516" y="543" width="3" height="1"/><rect x="522" y="544" width="3" height="1"/><rect x="528" y="545" width="3" height="1"/><rect x="534" y="546" width="3" height="1"/><rect x="540" y="547" width="3" height="1"/><rect x="546" y="547" width="1" height="1"/><rect x="547" y="548" width="2" height="1"/><rect x="552" y="548" width="1" height="1"/><rect x="553" y="549" width="2" height="1"/><rect x="558" y="550" width="3" height="1"/><rect x="564" y="551" width="2" height="1"/><rect x="566" y="552" width="1" height="1"/><rect x="570" y="553" width="3" height="1"/><rect x="576" y="554" width="3" height="1"/><rect x="582" y="555" width="2" height="1"/><rect x="584" y="556" width="1" height="1"/><rect x="588" y="556" width="1" height="1"/><rect x="589" y="557" width="2" height="1"/><rect x="594" y="558" width="3" height="1"/><rect x="600" y="559" width="3" height="1"/><rect x="606" y="560" width="2" height="1"/><rect x="608" y="561" width="1" height="1"/><rect x="612" y="561" width="1" height="1"/><rect x="613" y="562" width="2" height="1"/><rect x="618" y="563" width="1" height="1"/><rect x="619" y="564" width="2" height="1"/><rect x="624" y="565" width="2" height="1"/><rect x="626" y="566" width="1" height="1"/><rect x="630" y="567" width="2" height="1"/><rect x="632" y="568" width="1" height="1"/><rect x="636" y="569" width="2" height="1"/><rect x="638" y="570" width="1" height="1"/><rect x="642" y="571" width="2" height="1"/><rect x="644" y="572" width="1" height="1"/><rect x="648" y="573" width="2" height="1"/><rect x="650" y="574" width="1" height="1"/><rect x="654" y="575" width="1" height="1"/><rect x="655" y="576" width="2" height="1"/><rect x="660" y="577" width="3" height="1"/><rect x="666" y="578" width="1" height="1"/><rect x="667" y="579" width="2" height="1"/><rect x="672" y="580" width="3" height="1"/><rect x="678" y="581" width="3" height="1"/><rect x="684" y="582" width="2" height="1"/><rect x="686" y="583" width="1" height="1"/><rect x="690" y="583" width="1" height="1"/><rect x="691" y="584" width="2" height="1"/><rect x="696" y="585" width="3" height="1"/><rect x="702" y="586" width="1" height="1"/><rect x="703" y="587" width="2" height="1"/><rect x="708" y="588" width="2" height="1"/><rect x="710" y="589" width="1" height="1"/><rect x="714" y="589" width="3" height="1"/><rect x="720" y="589" width="3" height="1"/><rect x="726" y="590" width="3" height="1"/><rect x="732" y="590" width="3" height="1"/><rect x="738" y="590" width="3" height="1"/><rect x="744" y="591" width="3" height="1"/><rect x="750" y="591" width="3" height="1"/><rect x="756" y="591" width="3" height="1"/><rect x="762" y="591" width="3" height="1"/><rect x="768" y="590" width="3" height="1"/><rect x="774" y="589" width="3" height="1"/><rect x="780" y="588" width="3" height="1"/><rect x="786" y="588" width="3" height="1"/><rect x="792" y="587" width="3" height="1"/><rect x="798" y="586" width="3" height="1"/><rect x="804" y="585" width="2" height="1"/><rect x="806" y="584" width="1" height="1"/><rect x="810" y="584" width="1" height="1"/><rect x="811" y="583" width="2" height="1"/><rect x="816" y="583" width="3" height="1"/><rect x="822" y="582" width="3" height="1"/><rect x="828" y="581" width="3" height="1"/><rect x="834" y="580" width="2" height="1"/><rect x="836" y="579" width="1" height="1"/><rect x="840" y="579" width="2" height="1"/><rect x="842" y="578" width="1" height="1"/><rect x="846" y="578" width="3" height="1"/><rect x="852" y="577" width="3" height="1"/><rect x="858" y="577" width="2" height="1"/><rect x="860" y="576" width="1" height="1"/><rect x="864" y="576" width="2" height="1"/><rect x="866" y="575" width="1" height="1"/><rect x="870" y="575" width="1" height="1"/><rect x="871" y="574" width="2" height="1"/><rect x="876" y="573" width="3" height="1"/><rect x="882" y="572" width="3" height="1"/><rect x="888" y="571" width="3" height="1"/><rect x="894" y="570" width="3" height="1"/><rect x="900" y="570" width="3" height="1"/><rect x="906" y="569" width="3" height="1"/><rect x="912" y="569" width="3" height="1"/><rect x="918" y="569" width="3" height="1"/><rect x="924" y="569" width="3" height="1"/><rect x="930" y="569" width="3" height="1"/><rect x="936" y="569" width="3" height="1"/><rect x="942" y="569" width="3" height="1"/><rect x="948" y="569" width="3" height="1"/><rect x="954" y="569" width="3" height="1"/><rect x="960" y="569" width="3" height="1"/><rect x="966" y="569" width="3" height="1"/><rect x="972" y="569" width="3" height="1"/><rect x="978" y="569" width="3" height="1"/><rect x="984" y="569" width="3" height="1"/><rect x="990" y="569" width="3" height="1"/><rect x="996" y="569" width="3" height="1"/><rect x="1002" y="569" width="3" height="1"/><rect x="1008" y="569" width="3" height="1"/><rect x="1014" y="569" width="3" height="1"/><rect x="1020" y="569" width="3" height="1"/><rect x="1026" y="569" width="3" height="1"/><rect x="1032" y="569" width="3" height="1"/><rect x="1038" y="569" width="1" height="1"/><rect x="1039" y="568" width="2" height="1"/><rect x="1044" y="568" width="3" height="1"/><rect x="1050" y="568" width="3" height="1"/><rect x="1056" y="567" width="3" height="1"/><rect x="1062" y="567" width="3" height="1"/><rect x="1068" y="566" width="3" height="1"/><rect x="1074" y="565" width="3" height="1"/><rect x="1080" y="565" width="1" height="1"/><rect x="1081" y="564" width="2" height="1"/><rect x="1086" y="564" width="2" height="1"/><rect x="1088" y="563" width="1" height="1"/><rect x="1092" y="563" width="3" height="1"/><rect x="1098" y="562" width="3" height="1"/><rect x="1104" y="561" width="3" height="1"/><rect x="1110" y="560" width="1" height="1"/><rect x="1111" y="559" width="2" height="1"/><rect x="1116" y="558" width="3" height="1"/><rect x="1122" y="557" width="3" height="1"/><rect x="1128" y="556" width="1" height="1"/><rect x="1129" y="555" width="2" height="1"/><rect x="1134" y="554" width="2" height="1"/><rect x="1136" y="553" width="1" height="1"/><rect x="1140" y="553" width="3" height="1"/><rect x="1146" y="552" width="3" height="1"/><rect x="1152" y="552" width="3" height="1"/><rect x="1158" y="551" width="3" height="1"/><rect x="1164" y="551" width="3" height="1"/><rect x="1170" y="551" width="3" height="1"/><rect x="1176" y="551" width="3" height="1"/><rect x="1182" y="551" width="3" height="1"/><rect x="1188" y="551" width="1" height="1"/><rect x="1189" y="552" width="2" height="1"/><rect x="1194" y="553" width="2" height="1"/><rect x="1196" y="554" width="1" height="1"/><rect x="1200" y="555" width="3" height="1"/><rect x="1206" y="557" width="3" height="1"/><rect x="1212" y="559" width="2" height="1"/><rect x="1214" y="560" width="1" height="1"/><rect x="1218" y="561" width="2" height="1"/><rect x="1220" y="562" width="1" height="1"/><rect x="1224" y="563" width="1" height="1"/><rect x="1225" y="564" width="2" height="1"/><rect x="1230" y="566" width="1" height="1"/><rect x="1231" y="567" width="2" height="1"/><rect x="1236" y="569" width="1" height="1"/><rect x="1237" y="570" width="2" height="1"/><rect x="1242" y="571" width="1" height="1"/><rect x="1243" y="572" width="2" height="1"/><rect x="1248" y="574" width="3" height="1"/><rect x="1254" y="576" width="1" height="1"/><rect x="1255" y="577" width="2" height="1"/><rect x="1260" y="578" width="3" height="1"/><rect x="1266" y="579" width="3" height="1"/><rect x="1272" y="580" width="3" height="1"/><rect x="1278" y="580" width="3" height="1"/><rect x="1284" y="581" width="3" height="1"/><rect x="1290" y="581" width="3" height="1"/><rect x="1296" y="581" width="3" height="1"/><rect x="1302" y="581" width="3" height="1"/><rect x="1308" y="581" width="3" height="1"/></g>
<g fill="#1e90ff" shape-rendering="crispEdges"><rect x="0" y="670" width="1" height="1"/><rect x="1" y="669" width="2" height="1"/><rect x="3" y="668" width="3" height="1"/><rect x="6" y="667" width="1" height="1"/><rect x="7" y="666" width="1" height="1"/><rect x="8" y="664" width="1" height="2"/><rect x="9" y="662" width="1" height="2"/><rect x="10" y="660" width="1" height="2"/><rect x="11" y="658" width="1" height="2"/><rect x="12" y="657" width="1" height="1"/><rect x="13" y="655" width="1" height="2"/><rect x="14" y="653" width="1" height="2"/><rect x="15" y="651" width="1" height="2"/><rect x="16" y="649" width="1" height="2"/><rect x="17" y="649" width="2" height="1"/><rect x="19" y="648" width="3" height="1"/><rect x="22" y="647" width="3" height="1"/><rect x="25" y="646" width="4" height="1"/><rect x="29" y="645" width="11" height="1"/><rect x="40" y="646" width="1" height="2"/><rect x="41" y="648" width="1" height="2"/><rect x="42" y="650" width="1" height="2"/><rect x="43" y="652" width="1" height="2"/><rect x="44" y="654" width="1" height="2"/><rect x="45" y="656" width="1" height="1"/><rect x="46" y="657" width="1" height="2"/><rect x="47" y="659" width="1" height="2"/><rect x="48" y="661" width="5" height="1"/><rect x="53" y="660" width="4" height="1"/><rect x="57" y="661" width="3" height="1"/><rect x="60" y="662" width="2" height="1"/><rect x="62" y="663" width="6" height="1"/><rect x="68" y="662" width="4" height="1"/><rect x="72" y="661" width="5" height="1"/><rect x="77" y="660" width="7" height="1"/><rect x="84" y="661" width="4" height="1"/><rect x="88" y="662" width="1" height="2"/><rect x="89" y="664" width="1" height="2"/><rect x="90" y="666" width="1" height="3"/><rect x="91" y="669" width="1" height="2"/><rect x="92" y="671" width="1" height="2"/><rect x="93" y="673" width="1" height="3"/><rect x="94" y="676" width="1" height="2"/><rect x="95" y="678" width="1" height="2"/><rect x="96" y="680" width="1" height="2"/><rect x="97" y="681" width="1" height="1"/><rect x="98" y="682" width="3" height="1"/><rect x="101" y="683" width="7" height="1"/><rect x="108" y="682" width="9" height="1"/><rect x="117" y="683" width="11" height="1"/><rect x="128" y="682" width="2" height="1"/><rect x="130" y="681" width="1" height="1"/><rect x="131" y="680" width="2" height="1"/><rect x="133" y="679" width="2" height="1"/><rect x="135" y="678" width="4" height="1"/><rect x="139" y="679" width="4" height="1"/><rect x="143" y="680" width="1" height="1"/><rect x="144" y="678" width="1" height="2"/><rect x="145" y="677" width="1" height="1"/><rect x="146" y="676" width="1" height="1"/><rect x="147" y="674" width="1" height="2"/><rect x="148" y="673" width="1" height="1"/><rect x="149" y="672" width="1" height="1"/><rect x="150" y="670" width="1" height="2"/><rect x="151" y="669" width="2" height="1"/><rect x="153" y="668" width="7" height="1"/><rect x="160" y="669" width="2" height="1"/><rect x="162" y="670" width="2" height="1"/><rect x="164" y="671" width="1" height="1"/><rect x="165" y="672" width="2" height="1"/><rect x="167" y="673" width="3" height="1"/><rect x="170" y="674" width="4" height="1"/><rect x="174" y="675" width="2" height="1"/><rect x="176" y="674" width="2" height="1"/><rect x="178" y="673" width="2" height="1"/><rect x="180" y="672" width="2" height="1"/><rect x="182" y="671" width="1" height="1"/><rect x="183" y="670" width="9" height="1"/><rect x="192" y="671" width="3" height="1"/><rect x="195" y="672" width="4" height="1"/><rect x="199" y="673" width="16" height="1"/><rect x="215" y="674" width="4" height="1"/><rect x="219" y="675" width="2" height="1"/><rect x="221" y="676" width="2" height="1"/><rect x="223" y="677" width="1" height="1"/><rect x="224" y="676" width="1" height="1"/><rect x="225" y="675" width="1" height="1"/><rect x="226" y="674" width="1" height="1"/><rect x="227" y="673" width="2" height="1"/><rect x="229" y="672" width="1" height="1"/><rect x="230" y="671" width="1" height="1"/><rect x="231" y="670" width="1" height="1"/><rect x="232" y="669" width="2" height="1"/><rect x="234" y="668" width="2" height="1"/><rect x="236" y="667" width="1" height="1"/><rect x="237" y="666" width="2" height="1"/><rect x="239" y="665" width="2" height="1"/><rect x="241" y="664" width="1" height="1"/><rect x="242" y="663" width="1" height="1"/><rect x="243" y="662" width="2" height="1"/><rect x="245" y="661" width="1" height="1"/><rect x="246" y="660" width="1" height="1"/><rect x="247" y="659" width="2" height="1"/><rect x="249" y="658" width="4" height="1"/><rect x="253" y="657" width="12" height="1"/><rect x="265" y="658" width="2" height="1"/><rect x="267" y="659" width="3" height="1"/><rect x="270" y="660" width="3" height="1"/><rect x="273" y="659" width="9" height="1"/><rect x="282" y="660" width="1" height="1"/><rect x="283" y="661" width="2" height="1"/><rect x="285" y="662" width="1" height="1"/><rect x="286" y="663" width="3" height="1"/><rect x="289" y="662" width="1" height="1"/><rect x="290" y="660" width="1" height="2"/><rect x="291" y="659" width="1" height="1"/><rect x="292" y="658" width="1" height="1"/><rect x="293" y="657" width="1" height="1"/><rect x="294" y="656" width="1" height="1"/><rect x="295" y="655" width="1" height="1"/><rect x="296" y="656" width="2" height="1"/><rect x="298" y="657" width="1" height="1"/><rect x="299" y="658" width="1" height="1"/><rect x="300" y="659" width="1" height="1"/><rect x="301" y="660" width="1" height="1"/><rect x="302" y="661" width="1" height="1"/><rect x="303" y="662" width="5" height="1"/><rect x="308" y="663" width="6" height="1"/><rect x="314" y="662" width="8" height="1"/><rect x="322" y="663" width="5" height="1"/><rect x="327" y="664" width="1" height="1"/><rect x="328" y="662" width="1" height="2"/><rect x="329" y="661" width="1" height="1"/><rect x="330" y="660" width="1" height="1"/><rect x="331" y="659" width="1" height="1"/><rect x="332" y="658" width="1" height="1"/><rect x="333" y="656" width="1" height="2"/><rect x="334" y="655" width="1" height="1"/><rect x="335" y="654" width="2" height="1"/><rect x="337" y="655" width="2" height="1"/><rect x="339" y="656" width="2" height="1"/><rect x="341" y="657" width="5" height="1"/><rect x="346" y="656" width="2" height="1"/><rect x="348" y="655" width="2" height="1"/><rect x="350" y="654" width="2" height="1"/><rect x="352" y="653" width="1" height="1"/><rect x="353" y="652" width="1" height="1"/><rect x="354" y="651" width="1" height="1"/><rect x="355" y="650" width="1" height="1"/><rect x="356" y="648" width="1" height="2"/><rect x="357" y="647" width="1" height="1"/><rect x="358" y="646" width="1" height="1"/><rect x="359" y="645" width="2" height="1"/><rect x="361" y="646" width="4" height="1"/><rect x="365" y="647" width="4" height="1"/><rect x="369" y="646" width="2" height="1"/><rect x="371" y="645" width="3" height="1"/><rect x="374" y="644" width="2" height="1"/><rect x="376" y="643" width="2" height="1"/><rect x="378" y="642" width="2" height="1"/><rect x="380" y="641" width="2" height="1"/><rect x="382" y="640" width="2" height="1"/><rect x="384" y="639" width="2" height="1"/><rect x="386" y="638" width="2" height="1"/><rect x="388" y="637" width="1" height="1"/><rect x="389" y="636" width="1" height="1"/><rect x="390" y="635" width="2" height="1"/><rect x="392" y="634" width="1" height="1"/><rect x="393" y="633" width="1" height="1"/><rect x="394" y="632" width="1" height="1"/><rect x="395" y="631" width="2" height="1"/><rect x="397" y="630" width="1" height="1"/><rect x="398" y="629" width="10" height="1"/><rect x="408" y="628" width="4" height="1"/><rect x="412" y="627" width="4" height="1"/><rect x="416" y="626" width="9" height="1"/><rect x="425" y="627" width="2" height="1"/><rect x="427" y="628" width="3" height="1"/><rect x="430" y="629" width="2" height="1"/><rect x="432" y="630" width="8" height="1"/><rect x="440" y="631" width="1" height="1"/><rect x="441" y="632" width="2" height="1"/><rect x="443" y="633" width="1" height="1"/><rect x="444" y="634" width="1" height="1"/><rect x="445" y="635" width="1" height="1"/><rect x="446" y="636" width="2" height="1"/><rect x="448" y="637" width="5" height="1"/><rect x="453" y="638" width="3" height="1"/><rect x="456" y="637" width="4" height="1"/><rect x="460" y="636" width="4" height="1"/><rect x="464" y="635" width="8" height="1"/><rect x="472" y="636" width="1" height="1"/><rect x="473" y="637" width="1" height="1"/><rect x="474" y="638" width="1" height="2"/><rect x="475" y="640" width="1" height="1"/><rect x="476" y="641" width="1" height="1"/><rect x="477" y="642" width="1" height="2"/><rect x="478" y="644" width="1" height="1"/><rect x="479" y="645" width="1" height="1"/><rect x="480" y="646" width="1" height="1"/><rect x="481" y="645" width="2" height="1"/><rect x="483" y="644" width="3" height="1"/><rect x="486" y="643" width="3" height="1"/><rect x="489" y="644" width="1" height="1"/><rect x="490" y="645" width="2" height="1"/><rect x="492" y="646" width="2" height="1"/><rect x="494" y="647" width="2" height="1"/><rect x="496" y="648" width="3" height="1"/><rect x="499" y="647" width="5" height="1"/><rect x="504" y="648" width="2" height="1"/><rect x="506" y="649" width="2" height="1"/><rect x="508" y="650" width="1" height="1"/><rect x="509" y="651" width="2" height="1"/><rect x="511" y="652" width="5" height="1"/><rect x="516" y="653" width="6" height="1"/><rect x="522" y="652" width="6" height="1"/><rect x="528" y="651" width="1" height="1"/><rect x="529" y="650" width="2" height="1"/><rect x="531" y="649" width="2" height="1"/><rect x="533" y="648" width="2" height="1"/><rect x="535" y="647" width="1" height="1"/><rect x="536" y="648" width="1" height="1"/><rect x="537" y="649" width="1" height="2"/><rect x="538" y="651" width="1" height="2"/><rect x="539" y="653" width="1" height="2"/><rect x="540" y="655" width="1" height="2"/><rect x="541" y="657" width="1" height="2"/><rect x="542" y="659" width="1" height="2"/><rect x="543" y="661" width="1" height="2"/><rect x="544" y="663" width="1" height="1"/><rect x="545" y="664" width="1" height="1"/><rect x="546" y="665" width="1" height="1"/><rect x="547" y="666" width="1" height="1"/><rect x="548" y="667" width="1" height="1"/><rect x="549" y="668" width="1" height="1"/><rect x="550" y="669" width="1" height="1"/><rect x="551" y="670" width="3" height="1"/><rect x="554" y="669" width="2" height="1"/><rect x="556" y="668" width="2" height="1"/><rect x="558" y="667" width="1" height="1"/><rect x="559" y="666" width="4" height="1"/><rect x="563" y="665" width="11" height="1"/><rect x="574" y="666" width="6" height="1"/><rect x="580" y="667" width="12" height="1"/><rect x="592" y="668" width="1" height="2"/><rect x="593" y="670" width="1" height="2"/><rect x="594" y="672" width="1" height="2"/><rect x="595" y="674" width="1" height="3"/><rect x="596" y="677" width="1" height="2"/><rect x="597" y="679" width="1" height="3"/><rect x="598" y="682" width="1" height="2"/><rect x="599" y="684" width="1" height="2"/><rect x="600" y="686" width="1" height="1"/><rect x="601" y="687" width="1" height="1"/><rect x="602" y="688" width="2" height="1"/><rect x="604" y="689" width="2" height="1"/><rect x="606" y="690" width="2" height="1"/><rect x="608" y="691" width="9" height="1"/><rect x="617" y="690" width="2" height="1"/><rect x="619" y="689" width="3" height="1"/><rect x="622" y="688" width="2" height="1"/><rect x="624" y="687" width="1" height="1"/><rect x="625" y="686" width="1" height="1"/><rect x="626" y="685" width="1" height="1"/><rect x="627" y="683" width="1" height="2"/><rect x="628" y="682" width="1" height="1"/><rect x="629" y="681" width="1" height="1"/><rect x="630" y="680" width="1" height="1"/><rect x="631" y="678" width="1" height="2"/><rect x="632" y="678" width="1" height="1"/><rect x="633" y="679" width="1" height="2"/><rect x="634" y="681" width="1" height="1"/><rect x="635" y="682" width="1" height="1"/><rect x="636" y="683" width="1" height="1"/><rect x="637" y="684" width="1" height="2"/><rect x="638" y="686" width="1" height="1"/><rect x="639" y="687" width="1" height="1"/><rect x="640" y="688" width="1" height="1"/><rect x="641" y="689" width="2" height="1"/><rect x="643" y="690" width="2" height="1"/><rect x="645" y="691" width="2" height="1"/><rect x="647" y="692" width="9" height="1"/><rect x="656" y="691" width="2" height="1"/><rect x="658" y="690" width="1" height="1"/><rect x="659" y="689" width="2" height="1"/><rect x="661" y="688" width="1" height="1"/><rect x="662" y="687" width="8" height="1"/><rect x="670" y="688" width="2" height="1"/><rect x="672" y="687" width="1" height="1"/><rect x="673" y="686" width="1" height="1"/><rect x="674" y="685" width="1" height="1"/><rect x="675" y="684" width="1" height="1"/><rect x="676" y="683" width="1" height="1"/><rect x="677" y="682" width="1" height="1"/><rect x="678" y="681" width="1" height="1"/><rect x="679" y="680" width="2" height="1"/><rect x="681" y="681" width="1" height="2"/><rect x="682" y="683" width="1" height="2"/><rect x="683" y="685" width="1" height="2"/><rect x="684" y="687" width="1" height="2"/><rect x="685" y="689" width="1" height="2"/><rect x="686" y="691" width="1" height="2"/><rect x="687" y="693" width="1" height="2"/><rect x="688" y="695" width="1" height="1"/><rect x="689" y="693" width="1" height="2"/><rect x="690" y="692" width="1" height="1"/><rect x="691" y="691" width="1" height="1"/><rect x="692" y="690" width="1" height="1"/><rect x="693" y="689" width="1" height="1"/><rect x="694" y="688" width="1" height="1"/><rect x="695" y="686" width="1" height="2"/><rect x="696" y="686" width="2" height="1"/><rect x="698" y="685" width="5" height="1"/><rect x="703" y="684" width="2" height="1"/><rect x="705" y="683" width="2" height="1"/><rect x="707" y="682" width="1" height="1"/><rect x="708" y="681" width="2" height="1"/><rect x="710" y="680" width="1" height="1"/><rect x="711" y="679" width="7" height="1"/><rect x="718" y="680" width="4" height="1"/><rect x="722" y="679" width="7" height="1"/><rect x="729" y="680" width="1" height="1"/><rect x="730" y="681" width="1" height="1"/><rect x="731" y="682" width="2" height="1"/><rect x="733" y="683" width="1" height="1"/><rect x="734" y="684" width="1" height="1"/><rect x="735" y="685" width="2" height="1"/><rect x="737" y="683" width="1" height="2"/><rect x="738" y="682" width="1" height="1"/><rect x="739" y="680" width="1" height="2"/><rect x="740" y="678" width="1" height="2"/><rect x="741" y="677" width="1" height="1"/><rect x="742" y="675" width="1" height="2"/><rect x="743" y="674" width="1" height="1"/><rect x="744" y="673" width="3" height="1"/><rect x="747" y="674" width="4" height="1"/><rect x="751" y="675" width="2" height="1"/><rect x="753" y="674" width="2" height="1"/><rect x="755" y="673" width="2" height="1"/><rect x="757" y="672" width="2" height="1"/><rect x="759" y="671" width="9" height="1"/><rect x="768" y="670" width="2" height="1"/><rect x="770" y="669" width="1" height="1"/><rect x="771" y="668" width="1" height="1"/><rect x="772" y="667" width="1" height="1"/><rect x="773" y="666" width="1" height="1"/><rect x="774" y="665" width="1" height="1"/><rect x="775" y="664" width="2" height="1"/><rect x="777" y="665" width="2" height="1"/><rect x="779" y="666" width="1" height="1"/><rect x="780" y="667" width="2" height="1"/><rect x="782" y="668" width="2" height="1"/><rect x="784" y="669" width="18" height="1"/><rect x="802" y="670" width="3" height="1"/><rect x="805" y="671" width="2" height="1"/><rect x="807" y="672" width="2" height="1"/><rect x="809" y="671" width="4" height="1"/><rect x="813" y="670" width="5" height="1"/><rect x="818" y="669" width="8" height="1"/><rect x="826" y="670" width="2" height="1"/><rect x="828" y="671" width="2" height="1"/><rect x="830" y="672" width="4" height="1"/><rect x="834" y="671" width="2" height="1"/><rect x="836" y="670" width="2" height="1"/><rect x="838" y="669" width="2" height="1"/><rect x="840" y="668" width="1" height="1"/><rect x="841" y="667" width="1" height="1"/><rect x="842" y="666" width="1" height="1"/><rect x="843" y="665" width="1" height="1"/><rect x="844" y="663" width="1" height="2"/><rect x="845" y="662" width="1" height="1"/><rect x="846" y="661" width="1" height="1"/><rect x="847" y="660" width="1" height="1"/><rect x="848" y="659" width="1" height="1"/><rect x="849" y="658" width="4" height="1"/><rect x="853" y="657" width="9" height="1"/><rect x="862" y="658" width="17" height="1"/><rect x="879" y="659" width="2" height="1"/><rect x="881" y="660" width="2" height="1"/><rect x="883" y="661" width="1" height="1"/><rect x="884" y="662" width="2" height="1"/><rect x="886" y="663" width="1" height="1"/><rect x="887" y="664" width="1" height="1"/><rect x="888" y="665" width="1" height="1"/><rect x="889" y="666" width="1" height="1"/><rect x="890" y="667" width="1" height="2"/><rect x="891" y="669" width="1" height="1"/><rect x="892" y="670" width="1" height="1"/><rect x="893" y="671" width="1" height="2"/><rect x="894" y="673" width="1" height="1"/><rect x="895" y="674" width="5" height="1"/><rect x="900" y="673" width="5" height="1"/><rect x="905" y="672" width="7" height="1"/><rect x="912" y="671" width="2" height="1"/><rect x="914" y="670" width="2" height="1"/><rect x="916" y="669" width="2" height="1"/><rect x="918" y="668" width="3" height="1"/><rect x="921" y="666" width="1" height="2"/><rect x="922" y="665" width="1" height="1"/><rect x="923" y="664" width="1" height="1"/><rect x="924" y="663" width="1" height="1"/><rect x="925" y="662" width="1" height="1"/><rect x="926" y="661" width="1" height="1"/><rect x="927" y="660" width="2" height="1"/><rect x="929" y="661" width="1" height="1"/><rect x="930" y="662" width="1" height="1"/><rect x="931" y="663" width="1" height="1"/><rect x="932" y="664" width="1" height="1"/><rect x="933" y="665" width="1" height="1"/><rect x="934" y="666" width="1" height="1"/><rect x="935" y="667" width="1" height="1"/><rect x="936" y="668" width="2" height="1"/><rect x="938" y="669" width="2" height="1"/><rect x="940" y="670" width="2" height="1"/><rect x="942" y="671" width="2" height="1"/><rect x="944" y="672" width="1" height="1"/><rect x="945" y="671" width="3" height="1"/><rect x="948" y="670" width="2" height="1"/><rect x="950" y="669" width="3" height="1"/><rect x="953" y="668" width="3" height="1"/><rect x="956" y="667" width="8" height="1"/><rect x="964" y="666" width="5" height="1"/><rect x="969" y="665" width="2" height="1"/><rect x="971" y="664" width="2" height="1"/><rect x="973" y="663" width="2" height="1"/><rect x="975" y="662" width="2" height="1"/><rect x="977" y="663" width="3" height="1"/><rect x="980" y="664" width="2" height="1"/><rect x="982" y="665" width="2" height="1"/><rect x="984" y="666" width="3" height="1"/><rect x="987" y="667" width="3" height="1"/><rect x="990" y="668" width="6" height="1"/><rect x="996" y="667" width="5" height="1"/><rect x="1001" y="668" width="3" height="1"/><rect x="1004" y="669" width="3" height="1"/><rect x="1007" y="670" width="2" height="1"/><rect x="1009" y="669" width="4" height="1"/><rect x="1013" y="668" width="11" height="1"/><rect x="1024" y="667" width="2" height="1"/><rect x="1026" y="666" width="2" height="1"/><rect x="1028" y="665" width="3" height="1"/><rect x="1031" y="664" width="2" height="1"/><rect x="1033" y="663" width="2" height="1"/><rect x="1035" y="662" width="2" height="1"/><rect x="1037" y="661" width="2" height="1"/><rect x="1039" y="660" width="1" height="1"/><rect x="1040" y="659" width="1" height="1"/><rect x="1041" y="658" width="1" height="1"/><rect x="1042" y="656" width="1" height="2"/><rect x="1043" y="655" width="1" height="1"/><rect x="1044" y="654" width="1" height="1"/><rect x="1045" y="652" width="1" height="2"/><rect x="1046" y="651" width="1" height="1"/><rect x="1047" y="650" width="1" height="1"/><rect x="1048" y="648" width="1" height="2"/><rect x="1049" y="648" width="4" height="1"/><rect x="1053" y="647" width="14" height="1"/><rect x="1067" y="646" width="8" height="1"/><rect x="1075" y="645" width="7" height="1"/><rect x="1082" y="646" width="2" height="1"/><rect x="1084" y="647" width="3" height="1"/><rect x="1087" y="648" width="1" height="1"/><rect x="1088" y="647" width="1" height="1"/><rect x="1089" y="645" width="1" height="2"/><rect x="1090" y="643" width="1" height="2"/><rect x="1091" y="641" width="1" height="2"/><rect x="1092" y="639" width="1" height="2"/><rect x="1093" y="637" width="1" height="2"/><rect x="1094" y="635" width="1" height="2"/><rect x="1095" y="633" width="1" height="2"/><rect x="1096" y="633" width="2" height="1"/><rect x="1098" y="632" width="6" height="1"/><rect x="1104" y="631" width="4" height="1"/><rect x="1108" y="630" width="5" height="1"/><rect x="1113" y="631" width="2" height="1"/><rect x="1115" y="632" width="2" height="1"/><rect x="1117" y="633" width="2" height="1"/><rect x="1119" y="634" width="2" height="1"/><rect x="1121" y="633" width="3" height="1"/><rect x="1124" y="632" width="12" height="1"/><rect x="1136" y="633" width="1" height="1"/><rect x="1137" y="634" width="1" height="1"/><rect x="1138" y="635" width="1" height="2"/><rect x="1139" y="637" width="1" height="2"/><rect x="1140" y="639" width="1" height="2"/><rect x="1141" y="641" width="1" height="2"/><rect x="1142" y="643" width="1" height="1"/><rect x="1143" y="644" width="1" height="2"/><rect x="1144" y="646" width="1" height="1"/><rect x="1145" y="647" width="1" height="2"/><rect x="1146" y="649" width="1" height="1"/><rect x="1147" y="650" width="1" height="1"/><rect x="1148" y="651" width="1" height="1"/><rect x="1149" y="652" width="1" height="2"/><rect x="1150" y="654" width="1" height="1"/><rect x="1151" y="655" width="3" height="1"/><rect x="1154" y="654" width="2" height="1"/><rect x="1156" y="653" width="2" height="1"/><rect x="1158" y="652" width="7" height="1"/><rect x="1165" y="653" width="8" height="1"/><rect x="1173" y="654" width="3" height="1"/><rect x="1176" y="655" width="1" height="1"/><rect x="1177" y="656" width="1" height="2"/><rect x="1178" y="658" width="1" height="2"/><rect x="1179" y="660" width="1" height="3"/><rect x="1180" y="663" width="1" height="2"/><rect x="1181" y="665" width="1" height="2"/><rect x="1182" y="667" width="1" height="2"/><rect x="1183" y="669" width="1" height="3"/><rect x="1184" y="672" width="1" height="3"/><rect x="1185" y="675" width="1" height="2"/><rect x="1186" y="677" width="1" height="3"/><rect x="1187" y="680" width="1" height="3"/><rect x="1188" y="683" width="1" height="3"/><rect x="1189" y="686" width="1" height="3"/><rect x="1190" y="689" width="1" height="3"/><rect x="1191" y="692" width="1" height="2"/><rect x="1192" y="694" width="4" height="1"/><rect x="1196" y="695" width="4" height="1"/><rect x="1200" y="694" width="1" height="1"/><rect x="1201" y="693" width="1" height="1"/><rect x="1202" y="691" width="1" height="2"/><rect x="1203" y="690" width="1" height="1"/><rect x="1204" y="689" width="1" height="1"/><rect x="1205" y="687" width="1" height="2"/><rect x="1206" y="686" width="1" height="1"/><rect x="1207" y="685" width="7" height="1"/><rect x="1214" y="686" width="2" height="1"/><rect x="1216" y="685" width="1" height="1"/><rect x="1217" y="684" width="2" height="1"/><rect x="1219" y="683" width="1" height="1"/><rect x="1220" y="682" width="1" height="1"/><rect x="1221" y="681" width="1" height="1"/><rect x="1222" y="680" width="1" height="1"/><rect x="1223" y="679" width="2" height="1"/><rect x="1225" y="678" width="4" height="1"/><rect x="1229" y="677" width="9" height="1"/><rect x="1238" y="678" width="8" height="1"/><rect x="1246" y="679" width="3" height="1"/><rect x="1249" y="678" width="4" height="1"/><rect x="1253" y="677" width="4" height="1"/><rect x="1257" y="678" width="2" height="1"/><rect x="1259" y="679" width="2" height="1"/><rect x="1261" y="680" width="2" height="1"/><rect x="1263" y="681" width="11" height="1"/><rect x="1274" y="680" width="6" height="1"/><rect x="1280" y="679" width="1" height="1"/><rect x="1281" y="678" width="2" height="1"/><rect x="1283" y="677" width="1" height="1"/><rect x="1284" y="676" width="2" height="1"/><rect x="1286" y="675" width="1" height="1"/><rect x="1287" y="674" width="2" height="1"/><rect x="1289" y="675" width="1" height="1"/><rect x="1290" y="676" width="1" height="1"/><rect x="1291" y="677" width="2" height="1"/><rect x="1293" y="678" width="1" height="1"/><rect x="1294" y="679" width="2" height="1"/><rect x="1296" y="680" width="3" height="1"/><rect x="1299" y="681" width="4" height="1"/><rect x="1303" y="682" width="8" height="1"/></g>
</g>
<g shape-rendering="crispEdges">
<rect x="-1" y="162" width="1" height="86" fill="#32cd32"/>
<rect x="-3" y="162" width="5" height="86" fill="#32cd32"/>
<rect x="7" y="235" width="1" height="17" fill="#ff4500"/>
<rect x="5" y="236" width="5" height="12" fill="#ff4500"/>
<rect x="15" y="150" width="1" height="14" fill="#ff4500"/>
<rect x="13" y="150" width="5" height="11" fill="#ff4500"/>
<rect x="23" y="141" width="1" height="18" fill="#ff4500"/>
<rect x="21" y="141" width="5" height="12" fill="#ff4500"/>
<rect x="47" y="141" width="1" height="72" fill="#32cd32"/>
<rect x="45" y="141" width="5" height="51" fill="#32cd32"/>
<rect x="55" y="166" width="1" height="61" fill="#ff4500"/>
<rect x="53" y="177" width="5" height="15" fill="#ff4500"/>
<rect x="63" y="170" width="1" height="32" fill="#32cd32"/>
<rect x="61" y="177" width="5" height="25" fill="#32cd32"/>
<rect x="71" y="185" width="1" height="28" fill="#ff4500"/>
<rect x="69" y="192" width="5" height="9" fill="#ff4500"/>
<rect x="79" y="158" width="1" height="36" fill="#ff4500"/>
<rect x="77" y="178" width="5" height="16" fill="#ff4500"/>
<rect x="87" y="175" width="1" height="32" fill="#32cd32"/>
<rect x="85" y="178" width="5" height="9" fill="#32cd32"/>
<rect x="95" y="183" width="1" height="152" fill="#32cd32"/>
<rect x="93" y="183" width="5" height="130" fill="#32cd32"/>
<rect x="103" y="287" width="1" height="79" fill="#32cd32"/>
<rect x="101" y="311" width="5" height="38" fill="#32cd32"/>
<rect x="111" y="328" width="1" height="33" fill="#ff4500"/>
<rect x="109" y="337" width="5" height="11" fill="#ff4500"/>
<rect x="119" y="323" width="1" height="34" fill="#32cd32"/>
<rect x="117" y="338" width="5" height="4" fill="#32cd32"/>
<rect x="127" y="331" width="1" height="25" fill="#32cd32"/>
<rect x="125" y="341" width="5" height="5" fill="#32cd32"/>
<rect x="135" y="318" width="1" height="51" fill="#ff4500"/>
<rect x="133" y="325" width="5" height="21" fill="#ff4500"/>
<rect x="143" y="302" width="1" height="63" fill="#32cd32"/>
<rect x="141" y="327" width="5" height="13" fill="#32cd32"/>
<rect x="151" y="282" width="1" height="60" fill="#ff4500"/>
<rect x="149" y="286" width="5" height="53" fill="#ff4500"/>
<rect x="159" y="281" width="1" height="15" fill="#ff4500"/>
<rect x="157" y="283" width="5" height="5" fill="#ff4500"/>
<rect x="167" y="274" width="1" height="44" fill="#32cd32"/>
<rect x="165" y="284" width="5" height="29" fill="#32cd32"/>
<rect x="175" y="305" width="1" height="37" fill="#32cd32"/>
<rect x="173" y="312" width="5" height="16" fill="#32cd32"/>
<rect x="183" y="294" width="1" height="40" fill="#ff4500"/>
<rect x="181" y="306" width="5" height="22" fill="#ff4500"/>
<rect x="191" y="299" width="1" height="29" fill="#32cd32"/>
<rect x="189" y="305" width="5" height="8" fill="#32cd32"/>
<rect x="199" y="308" width="1" height="19" fill="#32cd32"/>
<rect x="197" y="312" width="5" height="11" fill="#32cd32"/>
<rect x="207" y="313" width="1" height="13" fill="#ff4500"/>
<rect x="205" y="322" width="5" height="4" fill="#ff4500"/>
<rect x="215" y="319" width="1" height="14" fill="#32cd32"/>
<rect x="213" y="322" width="5" height="6" fill="#32cd32"/>
<rect x="223" y="318" width="1" height="28" fill="#32cd32"/>
<rect x="221" y="327" width="5" height="16" fill="#32cd32"/>
<rect x="231" y="310" width="1" height="43" fill="#ff4500"/>
<rect x="229" y="317" width="5" height="27" fill="#ff4500"/>
<rect x="239" y="262" width="1" height="85" fill="#ff4500"/>
<rect x="237" y="297" width="5" height="21" fill="#ff4500"/>
<rect x="247" y="269" width="1" height="30" fill="#ff4500"/>
<rect x="245" y="271" width="5" height="27" fill="#ff4500"/>
<rect x="255" y="262" width="1" height="11" fill="#ff4500"/>
<rect x="253" y="262" width="5" height="10" fill="#ff4500"/>
<rect x="263" y="261" width="1" height="9" fill="#32cd32"/>
<rect x="261" y="262" width="5" height="7" fill="#32cd32"/>
<rect x="271" y="262" width="1" height="16" fill="#32cd32"/>
<rect x="269" y="269" width="5" height="4" fill="#32cd32"/>
<rect x="279" y="264" width="1" height="21" fill="#ff4500"/>
<rect x="277" y="269" width="5" height="5" fill="#ff4500"/>
<rect x="287" y="252" width="1" height="38" fill="#32cd32"/>
<rect x="285" y="270" width="5" height="18" fill="#32cd32"/>
<rect x="295" y="218" width="1" height="73" fill="#ff4500"/>
<rect x="293" y="254" width="5" height="33" fill="#ff4500"/>
<rect x="303" y="244" width="1" height="43" fill="#32cd32"/>
<rect x="301" y="253" width="5" height="27" fill="#32cd32"/>
<rect x="311" y="272" width="1" height="14" fill="#32cd32"/>
<rect x="309" y="278" width="5" height="4" fill="#32cd32"/>
<rect x="319" y="274" width="1" height="14" fill="#ff4500"/>
<rect x="317" y="280" width="5" height="3" fill="#ff4500"/>
<rect x="327" y="272" width="1" height="19" fill="#32cd32"/>
<rect x="325" y="279" width="5" height="8" fill="#32cd32"/>
<rect x="335" y="236" width="1" height="54" fill="#ff4500"/>
<rect x="333" y="249" width="5" height="37" fill="#ff4500"/>
<rect x="343" y="237" width="1" height="48" fill="#32cd32"/>
<rect x="341" y="248" width="5" height="14" fill="#32cd32"/>
<rect x="351" y="246" width="1" height="21" fill="#ff4500"/>
<rect x="349" y="246" width="5" height="17" fill="#ff4500"/>
<rect x="359" y="204" width="1" height="44" fill="#ff4500"/>
<rect x="357" y="205" width="5" height="42" fill="#ff4500"/>
<rect x="367" y="200" width="1" height="14" fill="#32cd32"/>
<rect x="365" y="207" width="5" height="4" fill="#32cd32"/>
<rect x="375" y="190" width="1" height="21" fill="#ff4500"/>
<rect x="373" y="196" width="5" height="14" fill="#ff4500"/>
<rect x="383" y="166" width="1" height="31" fill="#ff4500"/>
<rect x="381" y="177" width="5" height="20" fill="#ff4500"/>
<rect x="391" y="132" width="1" height="49" fill="#ff4500"/>
<rect x="389" y="143" width="5" height="33" fill="#ff4500"/>
<rect x="399" y="89" width="1" height="57" fill="#ff4500"/>
<rect x="397" y="99" width="5" height="44" fill="#ff4500"/>
<rect x="407" y="83" width="1" height="27" fill="#ff4500"/>
<rect x="405" y="93" width="5" height="7" fill="#ff4500"/>
<rect x="415" y="71" width="1" height="28" fill="#ff4500"/>
<rect x="413" y="79" width="5" height="11" fill="#ff4500"/>
<rect x="423" y="68" width="1" height="25" fill="#ff4500"/>
<rect x="421" y="71" width="5" height="9" fill="#ff4500"/>
<rect x="431" y="65" width="1" height="24" fill="#32cd32"/>
<rect x="429" y="71" width="5" height="11" fill="#32cd32"/>
<rect x="439" y="69" width="1" height="38" fill="#ff4500"/>
<rect x="437" y="76" width="5" height="6" fill="#ff4500"/>
<rect x="447" y="71" width="1" height="43" fill="#32cd32"/>
<rect x="445" y="76" width="5" height="18" fill="#32cd32"/>
<rect x="455" y="92" width="1" height="11" fill="#32cd32"/>
<rect x="453" y="93" width="5" height="4" fill="#32cd32"/>
<rect x="463" y="83" width="1" height="15" fill="#ff4500"/>
<rect x="461" y="87" width="5" height="8" fill="#ff4500"/>
<rect x="471" y="79" width="1" height="12" fill="#ff4500"/>
<rect x="469" y="81" width="5" height="6" fill="#ff4500"/>
<rect x="479" y="76" width="1" height="35" fill="#32cd32"/>
<rect x="477" y="81" width="5" height="26" fill="#32cd32"/>
<rect x="487" y="93" width="1" height="34" fill="#ff4500"/>
<rect x="485" y="94" width="5" height="13" fill="#ff4500"/>
<rect x="495" y="84" width="1" height="31" fill="#32cd32"/>
<rect x="493" y="95" width="5" height="13" fill="#32cd32"/>
<rect x="503" y="98" width="1" height="12" fill="#ff4500"/>
<rect x="501" y="102" width="5" height="5" fill="#ff4500"/>
<rect x="511" y="106" width="1" height="11" fill="#32cd32"/>
<rect x="509" y="107" width="5" height="8" fill="#32cd32"/>
<rect x="519" y="110" width="1" height="22" fill="#32cd32"/>
<rect x="517" y="114" width="5" height="5" fill="#32cd32"/>
<rect x="527" y="106" width="1" height="22" fill="#ff4500"/>
<rect x="525" y="112" width="5" height="6" fill="#ff4500"/>
<rect x="535" y="90" width="1" height="37" fill="#ff4500"/>
<rect x="533" y="95" width="5" height="17" fill="#ff4500"/>
<rect x="543" y="66" width="1" height="85" fill="#32cd32"/>
<rect x="541" y="94" width="5" height="46" fill="#32cd32"/>
<rect x="551" y="129" width="1" height="41" fill="#32cd32"/>
<rect x="549" y="138" width="5" height="31" fill="#32cd32"/>
<rect x="559" y="155" width="1" height="18" fill="#ff4500"/>
<rect x="557" y="156" width="5" height="12" fill="#ff4500"/>
<rect x="567" y="144" width="1" height="18" fill="#ff4500"/>
<rect x="565" y="149" width="5" height="6" fill="#ff4500"/>
<rect x="575" y="144" width="1" height="18" fill="#32cd32"/>
<rect x="573" y="148" width="5" height="5" fill="#32cd32"/>
<rect x="583" y="130" width="1" height="29" fill="#32cd32"/>
<rect x="581" y="152" width="5" height="4" fill="#32cd32"/>
<rect x="591" y="120" width="1" height="41" fill="#32cd32"/>
<rect x="589" y="154" width="5" height="3" fill="#32cd32"/>
<rect x="599" y="152" width="1" height="153" fill="#32cd32"/>
<rect x="597" y="157" width="5" height="87" fill="#32cd32"/>
<rect x="607" y="236" width="1" height="45" fill="#32cd32"/>
<rect x="605" y="243" width="5" height="29" fill="#32cd32"/>
<rect x="615" y="262" width="1" height="13" fill="#000000"/>
<rect x="613" y="271" width="5" height="1" fill="#000000"/>
<rect x="623" y="258" width="1" height="15" fill="#ff4500"/>
<rect x="621" y="262" width="5" height="10" fill="#ff4500"/>
<rect x="631" y="233" width="1" height="32" fill="#ff4500"/>
<rect x="629" y="234" width="5" height="30" fill="#ff4500"/>
<rect x="639" y="224" width="1" height="87" fill="#32cd32"/>
<rect x="637" y="233" width="5" height="61" fill="#32cd32"/>
<rect x="647" y="286" width="1" height="48" fill="#32cd32"/>
<rect x="645" y="294" width="5" height="32" fill="#32cd32"/>
<rect x="655" y="322" width="1" height="16" fill="#ff4500"/>
<rect x="653" y="328" width="5" height="1" fill="#ff4500"/>
<rect x="663" y="308" width="1" height="28" fill="#ff4500"/>
<rect x="661" y="312" width="5" height="18" fill="#ff4500"/>
<rect x="671" y="312" width="1" height="14" fill="#32cd32"/>
<rect x="669" y="312" width="5" height="9" fill="#32cd32"/>
<rect x="679" y="281" width="1" height="51" fill="#ff4500"/>
<rect x="677" y="295" width="5" height="26" fill="#ff4500"/>
<rect x="687" y="288" width="1" height="148" fill="#32cd32"/>
<rect x="685" y="294" width="5" height="131" fill="#32cd32"/>
<rect x="695" y="381" width="1" height="62" fill="#ff4500"/>
<rect x="693" y="386" width="5" height="40" fill="#ff4500"/>
<rect x="703" y="369" width="1" height="27" fill="#ff4500"/>
<rect x="701" y="383" width="5" height="4" fill="#ff4500"/>
<rect x="711" y="341" width="1" height="41" fill="#ff4500"/>
<rect x="709" y="355" width="5" height="27" fill="#ff4500"/>
<rect x="719" y="349" width="1" height="31" fill="#32cd32"/>
<rect x="717" y="355" width="5" height="14" fill="#32cd32"/>
<rect x="727" y="348" width="1" height="31" fill="#ff4500"/>
<rect x="725" y="361" width="5" height="8" fill="#ff4500"/>
<rect x="735" y="358" width="1" height="68" fill="#32cd32"/>
<rect x="733" y="361" width="5" height="62" fill="#32cd32"/>
<rect x="743" y="350" width="1" height="73" fill="#ff4500"/>
<rect x="741" y="358" width="5" height="65" fill="#ff4500"/>
<rect x="751" y="352" width="1" height="34" fill="#32cd32"/>
<rect x="749" y="357" width="5" height="19" fill="#32cd32"/>
<rect x="759" y="352" width="1" height="8" fill="#32cd32"/>
<rect x="757" y="355" width="5" height="2" fill="#32cd32"/>
<rect x="767" y="346" width="1" height="34" fill="#ff4500"/>
<rect x="765" y="355" width="5" height="2" fill="#ff4500"/>
<rect x="775" y="312" width="1" height="50" fill="#ff4500"/>
<rect x="773" y="320" width="5" height="35" fill="#ff4500"/>
<rect x="783" y="307" width="1" height="45" fill="#32cd32"/>
<rect x="781" y="321" width="5" height="29" fill="#32cd32"/>
<rect x="791" y="335" width="1" height="47" fill="#000000"/>
<rect x="789" y="350" width="5" height="1" fill="#000000"/>
<rect x="799" y="344" width="1" height="26" fill="#000000"/>
<rect x="797" y="351" width="5" height="1" fill="#000000"/>
<rect x="807" y="348" width="1" height="20" fill="#32cd32"/>
<rect x="805" y="350" width="5" height="15" fill="#32cd32"/>
<rect x="815" y="353" width="1" height="16" fill="#ff4500"/>
<rect x="813" y="357" width="5" height="8" fill="#ff4500"/>
<rect x="823" y="336" width="1" height="26" fill="#ff4500"/>
<rect x="821" y="355" width="5" height="2" fill="#ff4500"/>
<rect x="831" y="343" width="1" height="45" fill="#32cd32"/>
<rect x="829" y="354" width="5" height="20" fill="#32cd32"/>
<rect x="839" y="347" width="1" height="33" fill="#ff4500"/>
<rect x="837" y="358" width="5" height="14" fill="#ff4500"/>
<rect x="847" y="309" width="1" height="61" fill="#ff4500"/>
<rect x="845" y="313" width="5" height="45" fill="#ff4500"/>
<rect x="855" y="282" width="1" height="37" fill="#ff4500"/>
<rect x="853" y="305" width="5" height="9" fill="#ff4500"/>
<rect x="863" y="300" width="1" height="19" fill="#32cd32"/>
<rect x="861" y="305" width="5" height="4" fill="#32cd32"/>
<rect x="871" y="299" width="1" height="15" fill="#32cd32"/>
<rect x="869" y="307" width="5" height="3" fill="#32cd32"/>
<rect x="879" y="296" width="1" height="27" fill="#32cd32"/>
<rect x="877" y="308" width="5" height="6" fill="#32cd32"/>
<rect x="887" y="269" width="1" height="85" fill="#32cd32"/>
<rect x="885" y="314" width="5" height="22" fill="#32cd32"/>
<rect x="895" y="313" width="1" height="100" fill="#32cd32"/>
<rect x="893" y="335" width="5" height="44" fill="#32cd32"/>
<rect x="903" y="369" width="1" height="16" fill="#ff4500"/>
<rect x="901" y="371" width="5" height="8" fill="#ff4500"/>
<rect x="911" y="364" width="1" height="15" fill="#ff4500"/>
<rect x="909" y="368" width="5" height="6" fill="#ff4500"/>
<rect x="919" y="354" width="1" height="16" fill="#ff4500"/>
<rect x="917" y="355" width="5" height="14" fill="#ff4500"/>
<rect x="927" y="326" width="1" height="38" fill="#ff4500"/>
<rect x="925" y="327" width="5" height="29" fill="#ff4500"/>
<rect x="935" y="310" width="1" height="49" fill="#32cd32"/>
<rect x="933" y="327" width="5" height="32" fill="#32cd32"/>
<rect x="943" y="341" width="1" height="41" fill="#32cd32"/>
<rect x="941" y="358" width="5" height="19" fill="#32cd32"/>
<rect x="951" y="364" width="1" height="20" fill="#ff4500"/>
<rect x="949" y="366" width="5" height="11" fill="#ff4500"/>
<rect x="959" y="353" width="1" height="28" fill="#ff4500"/>
<rect x="957" y="358" width="5" height="8" fill="#ff4500"/>
<rect x="967" y="347" width="1" height="14" fill="#ff4500"/>
<rect x="965" y="356" width="5" height="2" fill="#ff4500"/>
<rect x="975" y="336" width="1" height="31" fill="#ff4500"/>
<rect x="973" y="341" width="5" height="16" fill="#ff4500"/>
<rect x="983" y="338" width="1" height="54" fill="#32cd32"/>
<rect x="981" y="344" width="5" height="12" fill="#32cd32"/>
<rect x="991" y="348" width="1" height="31" fill="#32cd32"/>
<rect x="989" y="356" width="5" height="7" fill="#32cd32"/>
<rect x="999" y="358" width="1" height="6" fill="#ff4500"/>
<rect x="997" y="359" width="5" height="5" fill="#ff4500"/>
<rect x="1007" y="366" width="1" height="8" fill="#32cd32"/>
<rect x="1005" y="366" width="5" height="6" fill="#32cd32"/>
<rect x="1015" y="359" width="1" height="13" fill="#ff4500"/>
<rect x="1013" y="364" width="5" height="8" fill="#ff4500"/>
<rect x="1023" y="363" width="1" height="15" fill="#32cd32"/>
<rect x="1021" y="364" width="5" height="2" fill="#32cd32"/>
<rect x="1031" y="350" width="1" height="24" fill="#ff4500"/>
<rect x="1029" y="354" width="5" height="13" fill="#ff4500"/>
<rect x="1039" y="318" width="1" height="65" fill="#ff4500"/>
<rect x="1037" y="345" width="5" height="12" fill="#ff4500"/>
<rect x="1047" y="306" width="1" height="44" fill="#ff4500"/>
<rect x="1045" y="306" width="5" height="40" fill="#ff4500"/>
<rect x="1055" y="294" width="1" height="17" fill="#ff4500"/>
<rect x="1053" y="301" width="5" height="8" fill="#ff4500"/>
<rect x="1063" y="294" width="1" height="9" fill="#ff4500"/>
<rect x="1061" y="299" width="5" height="2" fill="#ff4500"/>
<rect x="1071" y="289" width="1" height="12" fill="#ff4500"/>
<rect x="1069" y="295" width="5" height="6" fill="#ff4500"/>
<rect x="1079" y="275" width="1" height="20" fill="#ff4500"/>
<rect x="1077" y="293" width="5" height="2" fill="#ff4500"/>
<rect x="1087" y="284" width="1" height="27" fill="#32cd32"/>
<rect x="1085" y="292" width="5" height="7" fill="#32cd32"/>
<rect x="1095" y="227" width="1" height="72" fill="#ff4500"/>
<rect x="1093" y="234" width="5" height="64" fill="#ff4500"/>
<rect x="1103" y="218" width="1" height="32" fill="#ff4500"/>
<rect x="1101" y="229" width="5" height="5" fill="#ff4500"/>
<rect x="1111" y="214" width="1" height="18" fill="#ff4500"/>
<rect x="1109" y="218" width="5" height="14" fill="#ff4500"/>
<rect x="1119" y="211" width="1" height="19" fill="#32cd32"/>
<rect x="1117" y="219" width="5" height="7" fill="#32cd32"/>
<rect x="1127" y="213" width="1" height="21" fill="#ff4500"/>
<rect x="1125" y="215" width="5" height="12" fill="#ff4500"/>
<rect x="1135" y="196" width="1" height="47" fill="#32cd32"/>
<rect x="1133" y="215" width="5" height="2" fill="#32cd32"/>
<rect x="1143" y="207" width="1" height="45" fill="#32cd32"/>
<rect x="1141" y="215" width="5" height="30" fill="#32cd32"/>
<rect x="1151" y="244" width="1" height="39" fill="#32cd32"/>
<rect x="1149" y="246" width="5" height="24" fill="#32cd32"/>
<rect x="1159" y="247" width="1" height="31" fill="#ff4500"/>
<rect x="1157" y="252" width="5" height="19" fill="#ff4500"/>
<rect x="1167" y="250" width="1" height="11" fill="#32cd32"/>
<rect x="1165" y="253" width="5" height="5" fill="#32cd32"/>
<rect x="1175" y="247" width="1" height="24" fill="#32cd32"/>
<rect x="1173" y="257" width="5" height="4" fill="#32cd32"/>
<rect x="1183" y="260" width="1" height="77" fill="#32cd32"/>
<rect x="1181" y="261" width="5" height="59" fill="#32cd32"/>
<rect x="1191" y="314" width="1" height="208" fill="#32cd32"/>
<rect x="1189" y="318" width="5" height="146" fill="#32cd32"/>
<rect x="1199" y="457" width="1" height="30" fill="#32cd32"/>
<rect x="1197" y="463" width="5" height="6" fill="#32cd32"/>
<rect x="1207" y="417" width="1" height="57" fill="#ff4500"/>
<rect x="1205" y="432" width="5" height="34" fill="#ff4500"/>
<rect x="1215" y="427" width="1" height="26" fill="#32cd32"/>
<rect x="1213" y="432" width="5" height="14" fill="#32cd32"/>
<rect x="1223" y="407" width="1" height="45" fill="#ff4500"/>
<rect x="1221" y="416" width="5" height="31" fill="#ff4500"/>
<rect x="1231" y="369" width="1" height="61" fill="#ff4500"/>
<rect x="1229" y="409" width="5" height="8" fill="#ff4500"/>
<rect x="1239" y="376" width="1" height="45" fill="#32cd32"/>
<rect x="1237" y="408" width="5" height="9" fill="#32cd32"/>
<rect x="1247" y="413" width="1" height="12" fill="#32cd32"/>
<rect x="1245" y="416" width="5" height="4" fill="#32cd32"/>
<rect x="1255" y="411" width="1" height="8" fill="#000000"/>
<rect x="1253" y="412" width="5" height="1" fill="#000000"/>
<rect x="1263" y="401" width="1" height="35" fill="#32cd32"/>
<rect x="1261" y="412" width="5" height="23" fill="#32cd32"/>
<rect x="1271" y="424" width="1" height="20" fill="#32cd32"/>
<rect x="1269" y="435" width="5" height="3" fill="#32cd32"/>
<rect x="1279" y="414" width="1" height="40" fill="#ff4500"/>
<rect x="1277" y="434" width="5" height="5" fill="#ff4500"/>
<rect x="1287" y="405" width="1" height="77" fill="#ff4500"/>
<rect x="1285" y="416" width="5" height="18" fill="#ff4500"/>
<rect x="1295" y="396" width="1" height="68" fill="#32cd32"/>
<rect x="1293" y="417" width="5" height="30" fill="#32cd32"/>
<rect x="1303" y="432" width="1" height="36" fill="#32cd32"/>
<rect x="1301" y="445" width="5" height="13" fill="#32cd32"/>
<rect x="1311" y="457" width="1" height="1" fill="#ff4500"/>
<rect x="1309" y="457" width="5" height="1" fill="#ff4500"/>
</g>
<g shape-rendering="crispEdges">
<rect x="-1" y="727" width="1" height="3" fill="#000"/>
<rect x="95" y="727" width="1" height="3" fill="#000"/>
<rect x="191" y="727" width="1" height="3" fill="#000"/>
<rect x="287" y="727" width="1" height="3" fill="#000"/>
<rect x="383" y="727" width="1" height="3" fill="#000"/>
<rect x="479" y="727" width="1" height="3" fill="#000"/>
<rect x="575" y="727" width="1" height="3" fill="#000"/>
<rect x="671" y="727" width="1" height="3" fill="#000"/>
<rect x="767" y="727" width="1" height="3" fill="#000"/>
<rect x="863" y="727" width="1" height="3" fill="#000"/>
<rect x="959" y="727" width="1" height="3" fill="#000"/>
<rect x="1055" y="727" width="1" height="3" fill="#000"/>
<rect x="1151" y="727" width="1" height="3" fill="#000"/>
<rect x="1247" y="727" width="1" height="3" fill="#000"/>
<rect x="1663" y="73" width="3" height="1" fill="#000"/>
<rect x="1663" y="122" width="3" height="1" fill="#000"/>
<rect x="1663" y="171" width="3" height="1" fill="#000"/>
<rect x="1663" y="220" width="3" height="1" fill="#000"/>
<rect x="1663" y="269" width="3" height="1" fill="#000"/>
<rect x="1663" y="318" width="3" height="1" fill="#000"/>
<rect x="1663" y="367" width="3" height="1" fill="#000"/>
<rect x="1663" y="416" width="3" height="1" fill="#000"/>
<rect x="1663" y="465" width="3" height="1" fill="#000"/>
<rect x="1663" y="514" width="3" height="1" fill="#000"/>
<rect x="1663" y="537" width="2" height="1" fill="#000"/>
<rect x="1663" y="565" width="2" height="1" fill="#000"/>
<rect x="1663" y="594" width="2" height="1" fill="#000"/>
<rect x="1663" y="600" width="2" height="1" fill="#000"/>
<rect x="1663" y="637" width="2" height="1" fill="#000"/>
<rect x="1663" y="688" width="2" height="1" fill="#000"/>
<rect x="1663" y="725" width="2" height="1" fill="#000"/>
<rect x="1664" y="51" width="49" height="14" fill="#ff0000"/>
<rect x="1664" y="177" width="49" height="14" fill="#ff0000"/>
<rect x="1664" y="300" width="49" height="14" fill="#ff0000"/>
<rect x="1664" y="426" width="49" height="14" fill="#00ff7f"/>
<rect x="1664" y="450" width="49" height="14" fill="#000000"/>
</g>
<text x="1669.8" y="77.5" font-size="12" fill="#000" text-anchor="start" letter-spacing="0.3" >60.760</text>
<text x="1669.8" y="126.5" font-size="12" fill="#000" text-anchor="start" letter-spacing="0.3" >59.980</text>
<text x="1669.8" y="175.5" font-size="12" fill="#000" text-anchor="start" letter-spacing="0.3" >59.185</text>
<text x="1669.8" y="224.5" font-size="12" fill="#000" text-anchor="start" letter-spacing="0.3" >58.405</text>
<text x="1669.8" y="273.5" font-size="12" fill="#000" text-anchor="start" letter-spacing="0.3" >57.610</text>
<text x="1669.8" y="322.5" font-size="12" fill="#000" text-anchor="start" letter-spacing="0.3" >56.830</text>
<text x="1669.8" y="371.5" font-size="12" fill="#000" text-anchor="start" letter-spacing="0.3" >56.035</text>
<text x="1669.8" y="420.5" font-size="12" fill="#000" text-anchor="start" letter-spacing="0.3" >55.255</text>
<text x="1669.8" y="469.5" font-size="12" fill="#000" text-anchor="start" letter-spacing="0.3" >54.460</text>
<text x="1669.8" y="518.5" font-size="12" fill="#000" text-anchor="start" letter-spacing="0.3" >53.680</text>
<g shape-rendering="crispEdges">
<rect x="1664" y="51" width="49" height="14" fill="#ff0000"/>
<rect x="1664" y="177" width="49" height="14" fill="#ff0000"/>
<rect x="1664" y="300" width="49" height="14" fill="#ff0000"/>
<rect x="1664" y="426" width="49" height="14" fill="#00ff7f"/>
<rect x="1664" y="450" width="49" height="14" fill="#000000"/>
</g>
<text x="1669.8" y="62.5" font-size="12" fill="#fff" text-anchor="start" letter-spacing="0.3" >61.020</text>
<text x="1669.8" y="188.5" font-size="12" fill="#fff" text-anchor="start" letter-spacing="0.3" >59.000</text>
<text x="1669.8" y="311.5" font-size="12" fill="#fff" text-anchor="start" letter-spacing="0.3" >57.020</text>
<text x="1669.8" y="437.5" font-size="12" fill="#fff" text-anchor="start" letter-spacing="0.3" >55.000</text>
<text x="1669.8" y="461.5" font-size="12" fill="#fff" text-anchor="start" letter-spacing="0.3" >54.600</text>
<text x="1665.9" y="548.5" font-size="12" fill="#000" text-anchor="start" letter-spacing="0.3" >0.9321</text>
<text x="1665.9" y="569.5" font-size="12" fill="#000" text-anchor="start" letter-spacing="0.3" >0.00</text>
<text x="1665.9" y="592.5" font-size="12" fill="#000" text-anchor="start" letter-spacing="0.3" >-1.0161</text>
<text x="1665.9" y="611.5" font-size="12" fill="#000" text-anchor="start" letter-spacing="0.3" >100</text>
<text x="1665.9" y="641.5" font-size="12" fill="#000" text-anchor="start" letter-spacing="0.3" >70</text>
<text x="1665.9" y="692.5" font-size="12" fill="#000" text-anchor="start" letter-spacing="0.3" >30</text>
<text x="1665.9" y="722.5" font-size="12" fill="#000" text-anchor="start" letter-spacing="0.3" >0</text>
<text x="-2.5" y="742" font-size="12" fill="#000" text-anchor="start" letter-spacing="0.3" >28 Jun 2019</text>
<text x="93.5" y="742" font-size="12" fill="#000" text-anchor="start" letter-spacing="0.3" >2 Jul 12:00</text>
<text x="189.5" y="742" font-size="12" fill="#000" text-anchor="start" letter-spacing="0.3" >4 Jul 12:00</text>
<text x="285.5" y="742" font-size="12" fill="#000" text-anchor="start" letter-spacing="0.3" >8 Jul 08:00</text>
<text x="381.5" y="742" font-size="12" fill="#000" text-anchor="start" letter-spacing="0.3" >10 Jul 08:00</text>
<text x="477.5" y="742" font-size="12" fill="#000" text-anchor="start" letter-spacing="0.3" >12 Jul 08:00</text>
<text x="573.5" y="742" font-size="12" fill="#000" text-anchor="start" letter-spacing="0.3" >16 Jul 04:00</text>
<text x="669.5" y="742" font-size="12" fill="#000" text-anchor="start" letter-spacing="0.3" >18 Jul 04:00</text>
<text x="765.5" y="742" font-size="12" fill="#000" text-anchor="start" letter-spacing="0.3" >22 Jul 00:00</text>
<text x="861.5" y="742" font-size="12" fill="#000" text-anchor="start" letter-spacing="0.3" >24 Jul 00:00</text>
<text x="957.5" y="742" font-size="12" fill="#000" text-anchor="start" letter-spacing="0.3" >26 Jul 00:00</text>
<text x="1053.5" y="742" font-size="12" fill="#000" text-anchor="start" letter-spacing="0.3" >29 Jul 20:00</text>
<text x="1149.5" y="742" font-size="12" fill="#000" text-anchor="start" letter-spacing="0.3" >31 Jul 20:00</text>
<text x="1245.5" y="742" font-size="12" fill="#000" text-anchor="start" letter-spacing="0.3" >2 Aug 20:00</text>
<path d="M1.8 53.2 L11.2 53.2 L6.5 47.8 Z" fill="#000"/>
<text x="17.3" y="55" font-size="12" fill="#000" text-anchor="start" letter-spacing="0.3" textLength="50" lengthAdjust="spacingAndGlyphs">USOil-,H4</text>
<text x="76.2" y="55" font-size="12" fill="#000" text-anchor="start" letter-spacing="0.3" textLength="167.6" lengthAdjust="spacing">54.590 54.600 54.590 54.600</text>
<text x="3.3" y="551" font-size="12" fill="#000" text-anchor="start" letter-spacing="0.3" textLength="84.8" lengthAdjust="spacingAndGlyphs">MACD(12,26,9)</text>
<text x="92" y="551" font-size="12" fill="#000" text-anchor="start" letter-spacing="0.3" textLength="90" lengthAdjust="spacing">-0.5639 -0.5500</text>
<text x="3.2" y="614" font-size="12" fill="#000" text-anchor="start" letter-spacing="0.3" >RSI(14) 34.4501</text>
<path d="M1321.5 41 L1333.5 41 L1327.5 47.2 Z" fill="#c0c0c0"/>
<g shape-rendering="crispEdges">
<rect x="173" y="4" width="1" height="32" fill="#a0a0a0"/><rect x="174" y="4" width="1" height="32" fill="#ffffff"/>
<rect x="488" y="4" width="1" height="32" fill="#a0a0a0"/><rect x="489" y="4" width="1" height="32" fill="#ffffff"/>
<rect x="177" y="7" width="3" height="1" fill="#a8a8a8"/>
<rect x="177" y="9" width="3" height="1" fill="#a8a8a8"/>
<rect x="177" y="11" width="3" height="1" fill="#a8a8a8"/>
<rect x="177" y="13" width="3" height="1" fill="#a8a8a8"/>
<rect x="177" y="15" width="3" height="1" fill="#a8a8a8"/>
<rect x="177" y="17" width="3" height="1" fill="#a8a8a8"/>
<rect x="177" y="19" width="3" height="1" fill="#a8a8a8"/>
<rect x="177" y="21" width="3" height="1" fill="#a8a8a8"/>
<rect x="177" y="23" width="3" height="1" fill="#a8a8a8"/>
<rect x="177" y="25" width="3" height="1" fill="#a8a8a8"/>
<rect x="177" y="27" width="3" height="1" fill="#a8a8a8"/>
<rect x="177" y="29" width="3" height="1" fill="#a8a8a8"/>
<rect x="177" y="31" width="3" height="1" fill="#a8a8a8"/>
<rect x="177" y="33" width="3" height="1" fill="#a8a8a8"/>
<rect x="353" y="5" width="31" height="29" fill="#f8f8f8"/>
<rect x="353" y="5" width="31" height="1" fill="#a0a0a0"/><rect x="353" y="5" width="1" height="29" fill="#a0a0a0"/>
<rect x="353" y="33" width="31" height="1" fill="#ffffff"/><rect x="383" y="5" width="1" height="29" fill="#ffffff"/>
<rect x="102.5" y="13.5" width="14" height="15" fill="none" stroke="#585858" stroke-width="1" stroke-dasharray="1,1.5"/>
<rect x="105" y="16" width="10" height="2" fill="#707070"/><rect x="108" y="16" width="3" height="11" fill="#707070"/>
<rect x="101" y="11" width="2" height="2" fill="#585858"/>
</g>
<line x1="32" y1="12" x2="49.5" y2="12" stroke="#6c6c6c" stroke-width="1.7" stroke-dasharray="1.5,1"/>
<line x1="32" y1="16" x2="49.5" y2="16" stroke="#6c6c6c" stroke-width="1.7" stroke-dasharray="1.5,1"/>
<line x1="32" y1="21" x2="49.5" y2="21" stroke="#6c6c6c" stroke-width="1.7" stroke-dasharray="1.5,1"/>
<line x1="32" y1="26" x2="45.5" y2="26" stroke="#6c6c6c" stroke-width="1.7" stroke-dasharray="1.5,1"/>
<g stroke="#585858" stroke-width="1.2" fill="none"><path d="M-1 20 L7.2 12 M3.6 28.7 L14.8 18 M-1 27 L13 14" stroke="#707070"/><path d="M-0.5 25 L2.4 18.8 L4.4 24.3 L8 15.6 L9.2 22.8 L12 10 L13.6 18" stroke-width="1.2"/></g>
<text x="10.8" y="31.7" font-size="9" font-weight="bold" fill="#585858">E</text>
<text x="44.8" y="31.7" font-size="9" font-weight="bold" fill="#585858">F</text>
<text x="70.2" y="26.4" font-size="15" fill="#585858" stroke="#585858" stroke-width="0.4" textLength="9.6" lengthAdjust="spacingAndGlyphs">A</text>
<path d="M134.5 17.5 L139 12.5 L143.5 17.5 L142 17.5 L142 18.8 L136 18.8 L136 17.5 Z" fill="#585858"/>
<path d="M143.5 24.7 L152.5 24.7 L148 29.2 Z M146 23.5 L150 23.5 L150 24.7 L146 24.7 Z" fill="#585858"/>
<path d="M137.3 21.3 L140 24.2 L145.8 18" stroke="#585858" stroke-width="1.6" fill="none"/>
<path d="M157.8 19 L165.2 19 L161.5 23.2 Z" fill="#000"/>
<text x="190" y="25" font-size="12" fill="#404040">M1</text>
<text x="224.5" y="25" font-size="12" fill="#404040">M5</text>
<text x="255.5" y="25" font-size="12" fill="#404040">M15</text>
<text x="289.5" y="25" font-size="12" fill="#404040">M30</text>
<text x="327.5" y="25" font-size="12" fill="#404040">H1</text>
<text x="360.5" y="25" font-size="12" fill="#404040">H4</text>
<text x="396" y="25" font-size="12" fill="#404040">D1</text>
<text x="428.5" y="25" font-size="12" fill="#404040">W1</text>
<text x="460.5" y="25" font-size="12" fill="#404040">MN</text>
<defs><linearGradient id="bg" x1="0" y1="63" x2="0" y2="139" gradientUnits="userSpaceOnUse"><stop offset="0" stop-color="#5252fa"/><stop offset="0.35" stop-color="#3a3ae4"/><stop offset="0.8" stop-color="#1010bc"/><stop offset="1" stop-color="#0000a8"/></linearGradient>
<linearGradient id="bt" x1="0" y1="0" x2="0" y2="1"><stop offset="0" stop-color="#f2f2f2"/><stop offset="0.45" stop-color="#e4e4e4"/><stop offset="0.5" stop-color="#d4d4d4"/><stop offset="1" stop-color="#c8c8c8"/></linearGradient></defs>
<g shape-rendering="crispEdges">
<rect x="1" y="62" width="285" height="78" fill="#ffffff"/>
<rect x="2" y="63" width="68" height="28" fill="url(#bg)"/>
<rect x="217" y="63" width="68" height="28" fill="url(#bg)"/>
<rect x="2" y="90" width="141" height="49" fill="url(#bg)"/>
<rect x="145" y="90" width="140" height="49" fill="url(#bg)"/>
<rect x="6" y="89" width="60" height="1" fill="#1c1cb0"/>
<rect x="221" y="89" width="60" height="1" fill="#1c1cb0"/>
<rect x="6" y="90" width="60" height="1" fill="#8484f4"/>
<rect x="221" y="90" width="60" height="1" fill="#8484f4"/>
<rect x="2" y="63" width="1" height="76" fill="#0c0ca8" fill-opacity="0.8"/>
<rect x="2" y="63" width="68" height="1" fill="#0c0ca8" fill-opacity="0.8"/>
<rect x="69" y="63" width="1" height="27" fill="#0c0ca8" fill-opacity="0.8"/>
<rect x="142" y="90" width="1" height="49" fill="#0c0ca8" fill-opacity="0.8"/>
<rect x="145" y="90" width="1" height="49" fill="#0c0ca8" fill-opacity="0.8"/>
<rect x="217" y="63" width="1" height="27" fill="#0c0ca8" fill-opacity="0.8"/>
<rect x="217" y="63" width="68" height="1" fill="#0c0ca8" fill-opacity="0.8"/>
<rect x="284" y="63" width="1" height="76" fill="#0c0ca8" fill-opacity="0.8"/>
<rect x="2" y="138" width="141" height="1" fill="#0c0ca8" fill-opacity="0.8"/>
<rect x="145" y="138" width="140" height="1" fill="#0c0ca8" fill-opacity="0.8"/>
<rect x="72" y="63" width="143" height="25" fill="#ababab"/>
<rect x="73" y="64" width="141" height="23" fill="#ffffff"/>
<rect x="73" y="64" width="23" height="23" fill="url(#bt)"/><rect x="96" y="64" width="1" height="23" fill="#c0c0c0"/>
<rect x="191" y="64" width="23" height="23" fill="url(#bt)"/><rect x="190" y="64" width="1" height="23" fill="#c0c0c0"/>
<rect x="73" y="64" width="23" height="1" fill="#fafafa"/><rect x="73" y="64" width="1" height="23" fill="#fafafa"/><rect x="95" y="64" width="1" height="23" fill="#f0f0f0"/>
<rect x="191" y="64" width="23" height="1" fill="#fafafa"/><rect x="191" y="64" width="1" height="23" fill="#fafafa"/><rect x="213" y="64" width="1" height="23" fill="#f0f0f0"/>
<rect x="96" y="64" width="1" height="23" fill="#ababab"/><rect x="190" y="64" width="1" height="23" fill="#ababab"/>
</g>
<path d="M81 74 L88 74 L84.5 78 Z" fill="#5060b0"/>
<path d="M199 77 L206 77 L202.5 73 Z" fill="#5060b0"/>
<text x="19" y="82" font-size="15.5" fill="#fff" textLength="33.5" lengthAdjust="spacingAndGlyphs">SELL</text>
<text x="236" y="82" font-size="15.5" fill="#fff" textLength="29" lengthAdjust="spacingAndGlyphs">BUY</text>
<text x="187.3" y="81" font-size="15.5" fill="#000" text-anchor="end" textLength="31.5" lengthAdjust="spacingAndGlyphs">1.00</text>
<text x="41.6" y="128" font-size="15.6" font-weight="bold" fill="#fff" textLength="17.5" lengthAdjust="spacingAndGlyphs">54</text>
<text x="62.5" y="129" font-size="43.5" fill="#fff" textLength="45" lengthAdjust="spacingAndGlyphs">60</text>
<text x="111.8" y="110.2" font-size="15.5" font-weight="bold" fill="#fff" textLength="10" lengthAdjust="spacingAndGlyphs">0</text>
<text x="183.6" y="128" font-size="15.6" font-weight="bold" fill="#fff" textLength="17.5" lengthAdjust="spacingAndGlyphs">54</text>
<text x="205.3" y="129" font-size="43.5" fill="#fff" textLength="45" lengthAdjust="spacingAndGlyphs">65</text>
<text x="255" y="110.2" font-size="15.5" font-weight="bold" fill="#fff" textLength="10" lengthAdjust="spacingAndGlyphs">0</text>
</svg>
</body></html>
